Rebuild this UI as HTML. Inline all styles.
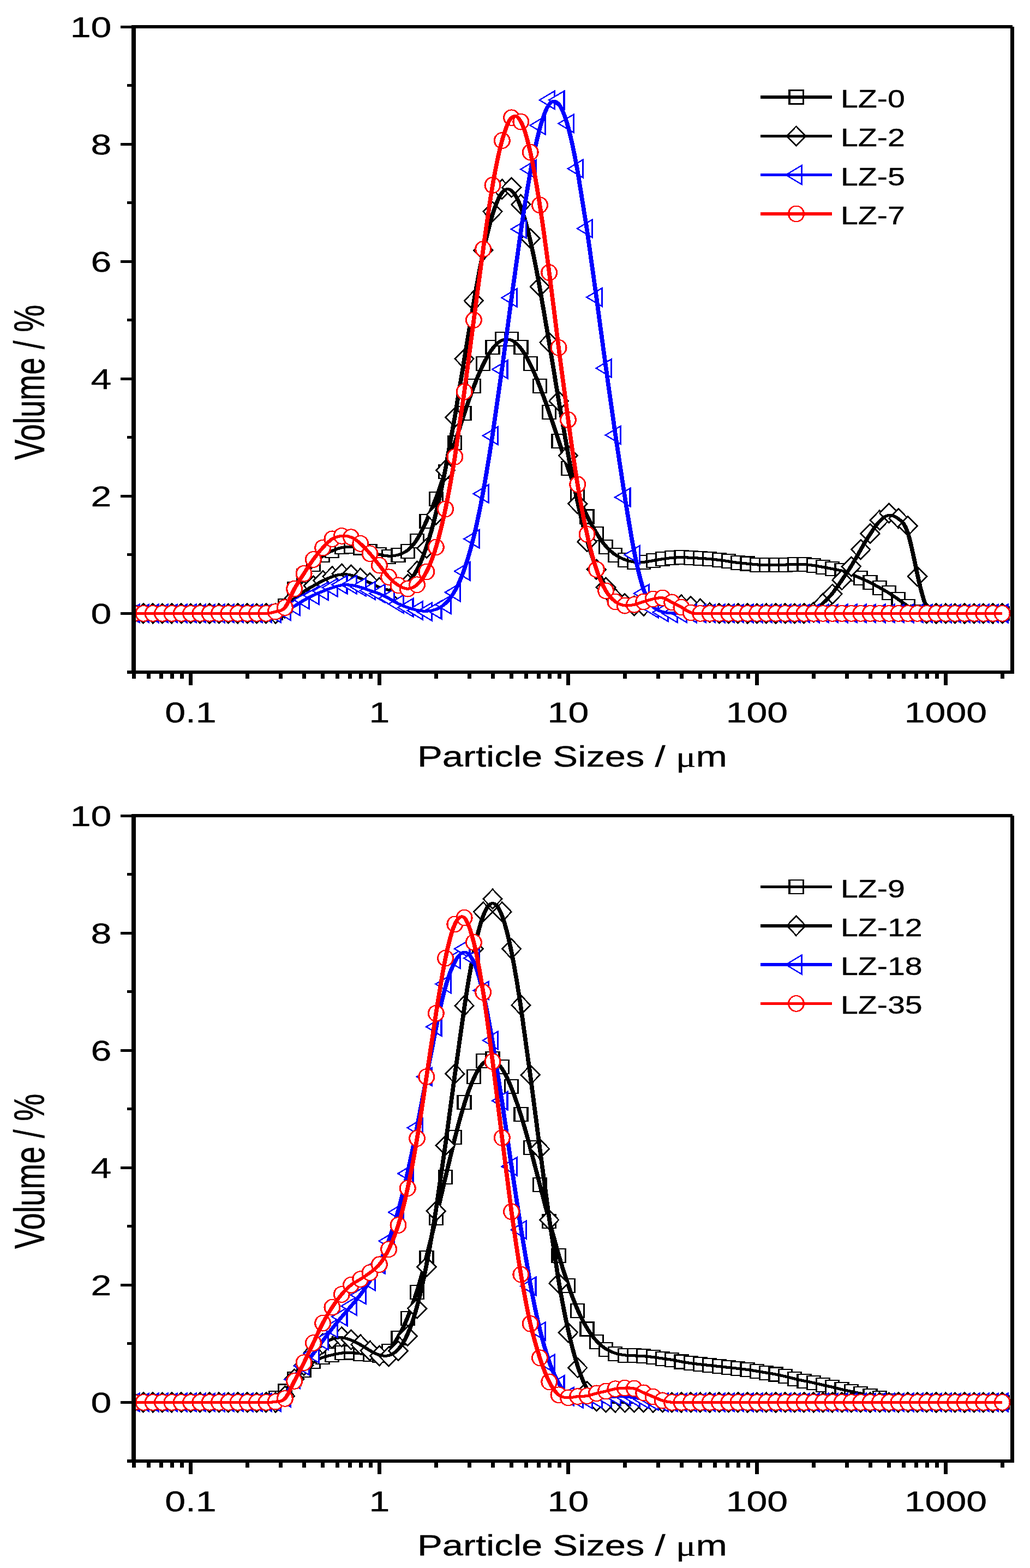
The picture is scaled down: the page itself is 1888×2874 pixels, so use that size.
<!DOCTYPE html>
<html><head><meta charset="utf-8"><title>Particle size distribution</title>
<style>html,body{margin:0;padding:0;background:#fff;}svg{display:block;}</style>
</head><body>
<svg shape-rendering="crispEdges" width="1888" height="2874" viewBox="0 0 1888 2874">
<rect width="1888" height="2874" fill="#fff"/>
<clipPath id="c1"><rect x="245" y="19" width="1610.5" height="1213"/></clipPath>
<g clip-path="url(#c1)"><g transform="scale(1.53,1)">
<g fill="#fff" stroke="#000" stroke-width="2.1">
<path d="M152.7,1111.9H168.4V1136.9H152.7Z"/>
<path d="M164,1111.9H179.7V1136.9H164Z"/>
<path d="M175.3,1111.9H191V1136.9H175.3Z"/>
<path d="M186.6,1111.9H202.3V1136.9H186.6Z"/>
<path d="M197.9,1111.9H213.6V1136.9H197.9Z"/>
<path d="M209.2,1111.9H224.9V1136.9H209.2Z"/>
<path d="M220.5,1111.9H236.2V1136.9H220.5Z"/>
<path d="M231.8,1111.9H247.5V1136.9H231.8Z"/>
<path d="M243.1,1111.9H258.8V1136.9H243.1Z"/>
<path d="M254.4,1111.9H270.1V1136.9H254.4Z"/>
<path d="M265.8,1111.9H281.4V1136.9H265.8Z"/>
<path d="M277.1,1111.9H292.7V1136.9H277.1Z"/>
<path d="M288.4,1111.9H304.1V1136.9H288.4Z"/>
<path d="M299.7,1111.9H315.4V1136.9H299.7Z"/>
<path d="M311,1111.9H326.7V1136.9H311Z"/>
<path d="M322.3,1110.8H338V1135.8H322.3Z"/>
<path d="M333.6,1097.9H349.3V1122.9H333.6Z"/>
<path d="M344.9,1066.7H360.6V1091.7H344.9Z"/>
<path d="M356.2,1043.1H371.9V1068.1H356.2Z"/>
<path d="M367.5,1021.6H383.2V1046.6H367.5Z"/>
<path d="M378.8,1005.4H394.5V1030.4H378.8Z"/>
<path d="M390.1,996.8H405.8V1021.8H390.1Z"/>
<path d="M401.4,990.4H417.1V1015.4H401.4Z"/>
<path d="M412.7,989.3H428.4V1014.3H412.7Z"/>
<path d="M424.1,991.5H439.7V1016.5H424.1Z"/>
<path d="M435.4,997.9H451V1022.9H435.4Z"/>
<path d="M446.7,1004.4H462.4V1029.4H446.7Z"/>
<path d="M458,1007.6H473.7V1032.6H458Z"/>
<path d="M469.3,1005.4H485V1030.4H469.3Z"/>
<path d="M480.6,997.9H496.3V1022.9H480.6Z"/>
<path d="M491.9,978.6H507.6V1003.6H491.9Z"/>
<path d="M503.2,943.1H518.9V968.1H503.2Z"/>
<path d="M514.5,902.2H530.2V927.2H514.5Z"/>
<path d="M525.8,851.7H541.5V876.7H525.8Z"/>
<path d="M537.1,799H552.8V824H537.1Z"/>
<path d="M548.4,745.2H564.1V770.2H548.4Z"/>
<path d="M559.7,694.6H575.4V719.6H559.7Z"/>
<path d="M571,653.8H586.7V678.8H571Z"/>
<path d="M582.4,623.7H598V648.7H582.4Z"/>
<path d="M593.7,608.6H609.3V633.6H593.7Z"/>
<path d="M605,608.6H620.7V633.6H605Z"/>
<path d="M616.3,623.7H632V648.7H616.3Z"/>
<path d="M627.6,653.8H643.3V678.8H627.6Z"/>
<path d="M638.9,694.6H654.6V719.6H638.9Z"/>
<path d="M650.2,743H665.9V768H650.2Z"/>
<path d="M661.5,795.7H677.2V820.7H661.5Z"/>
<path d="M672.8,846.3H688.5V871.3H672.8Z"/>
<path d="M684.1,895.7H699.8V920.7H684.1Z"/>
<path d="M695.4,934.5H711.1V959.5H695.4Z"/>
<path d="M706.7,965.6H722.4V990.6H706.7Z"/>
<path d="M718,990.4H733.7V1015.4H718Z"/>
<path d="M729.3,1005.4H745V1030.4H729.3Z"/>
<path d="M740.7,1014H756.3V1039H740.7Z"/>
<path d="M752,1018.3H767.6V1043.3H752Z"/>
<path d="M763.3,1018.3H779V1043.3H763.3Z"/>
<path d="M774.6,1015.1H790.3V1040.1H774.6Z"/>
<path d="M785.9,1011.9H801.6V1036.9H785.9Z"/>
<path d="M797.2,1009.7H812.9V1034.7H797.2Z"/>
<path d="M808.5,1008.9H824.2V1033.9H808.5Z"/>
<path d="M819.8,1009.7H835.5V1034.7H819.8Z"/>
<path d="M831.1,1010.8H846.8V1035.8H831.1Z"/>
<path d="M842.4,1011.9H858.1V1036.9H842.4Z"/>
<path d="M853.7,1014H869.4V1039H853.7Z"/>
<path d="M865,1016.2H880.7V1041.2H865Z"/>
<path d="M876.3,1019.4H892V1044.4H876.3Z"/>
<path d="M887.6,1020.5H903.3V1045.5H887.6Z"/>
<path d="M899,1022.6H914.6V1047.6H899Z"/>
<path d="M910.3,1023.2H925.9V1048.2H910.3Z"/>
<path d="M921.6,1023.2H937.3V1048.2H921.6Z"/>
<path d="M932.9,1022.6H948.6V1047.6H932.9Z"/>
<path d="M944.2,1021.6H959.9V1046.6H944.2Z"/>
<path d="M955.5,1021.6H971.2V1046.6H955.5Z"/>
<path d="M966.8,1023.7H982.5V1048.7H966.8Z"/>
<path d="M978.1,1026.9H993.8V1051.9H978.1Z"/>
<path d="M989.4,1030.2H1005.1V1055.2H989.4Z"/>
<path d="M1000.7,1033.4H1016.4V1058.4H1000.7Z"/>
<path d="M1012,1039.8H1027.7V1064.8H1012Z"/>
<path d="M1023.3,1047.4H1039V1072.4H1023.3Z"/>
<path d="M1034.6,1054.9H1050.3V1079.9H1034.6Z"/>
<path d="M1045.9,1064.6H1061.6V1089.6H1045.9Z"/>
<path d="M1057.3,1074.3H1072.9V1099.3H1057.3Z"/>
<path d="M1068.6,1086.1H1084.2V1111.1H1068.6Z"/>
<path d="M1079.9,1099H1095.6V1124H1079.9Z"/>
<path d="M1091.2,1108.7H1106.9V1133.7H1091.2Z"/>
<path d="M1102.5,1111.9H1118.2V1136.9H1102.5Z"/>
<path d="M1113.8,1111.9H1129.5V1136.9H1113.8Z"/>
<path d="M1125.1,1111.9H1140.8V1136.9H1125.1Z"/>
<path d="M1136.4,1111.9H1152.1V1136.9H1136.4Z"/>
<path d="M1147.7,1111.9H1163.4V1136.9H1147.7Z"/>
<path d="M1159,1111.9H1174.7V1136.9H1159Z"/>
<path d="M1170.3,1111.9H1186V1136.9H1170.3Z"/>
<path d="M1181.6,1111.9H1197.3V1136.9H1181.6Z"/>
<path d="M1192.9,1111.9H1208.6V1136.9H1192.9Z"/>
</g>
<path d="M160.5,1124.4L162.4,1124.4L171.8,1124.4L183.1,1124.4L194.4,1124.4L205.8,1124.4L217.1,1124.4L228.4,1124.4L239.7,1124.4L251,1124.4L262.3,1124.4L273.6,1124.4L284.9,1124.4L296.2,1124.4L307.5,1124.4C311.3,1124.4 315.1,1124.4 318.8,1124.2C322.6,1124 326.4,1123.7 330.1,1121.4C333.9,1119 337.7,1114.7 341.4,1107.4C345.2,1100 349,1089.6 352.7,1080.5C356.5,1071.3 360.3,1063.5 364.1,1055.9C367.8,1048.4 371.6,1041.2 375.4,1035C379.1,1028.7 382.9,1023.3 386.7,1019.2C390.4,1015.1 394.2,1012.2 398,1009.7C401.7,1007.2 405.5,1005 409.3,1003.8C413.1,1002.5 416.8,1002.2 420.6,1002.3C424.4,1002.5 428.1,1003.2 431.9,1004.7C435.7,1006.1 439.4,1008.3 443.2,1010.4C447,1012.6 450.7,1014.7 454.5,1016.3C458.3,1017.9 462,1019 465.8,1019.2C469.6,1019.4 473.4,1018.7 477.1,1017C480.9,1015.4 484.7,1012.9 488.4,1008.4C492.2,1004 496,997.5 499.7,988.4C503.5,979.2 507.3,967.4 511,954.7C514.8,941.9 518.6,928.3 522.4,913.1C526.1,897.8 529.9,881 533.7,863.8C537.4,846.6 541.2,829 545,811.3C548.7,793.5 552.5,775.6 556.3,758.2C560,740.8 563.8,724 567.6,708.8C571.4,693.5 575.1,679.9 578.9,668.1C582.7,656.2 586.4,646.2 590.2,638.7C594,631.1 597.7,626.1 601.5,623.6C605.3,621.1 609,621.1 612.8,623.6C616.6,626.1 620.3,631.1 624.1,638.7C627.9,646.2 631.7,656.2 635.4,668.1C639.2,679.9 643,693.5 646.7,708.4C650.5,723.3 654.3,739.4 658,756.3C661.8,773.1 665.6,790.7 669.3,807.9C673.1,825.1 676.9,841.9 680.7,858.6C684.4,875.3 688.2,891.8 692,906.5C695.7,921.1 699.5,934.1 703.3,945.7C707,957.4 710.8,967.8 714.6,977.1C718.3,986.4 722.1,994.6 725.9,1001.3C729.7,1007.9 733.4,1012.9 737.2,1016.9C741,1020.8 744.7,1023.7 748.5,1025.8C752.3,1028 756,1029.4 759.8,1030.1C763.6,1030.8 767.3,1030.8 771.1,1030.3C774.9,1029.8 778.6,1028.7 782.4,1027.6C786.2,1026.5 790,1025.5 793.7,1024.6C797.5,1023.7 801.3,1023 805,1022.5C808.8,1022 812.6,1021.7 816.3,1021.7C820.1,1021.7 823.9,1022 827.6,1022.3C831.4,1022.6 835.2,1023 839,1023.3C842.7,1023.7 846.5,1024 850.3,1024.6C854,1025.1 857.8,1025.8 861.6,1026.5C865.3,1027.3 869.1,1028 872.9,1028.9C876.6,1029.8 880.4,1030.8 884.2,1031.6C888,1032.3 891.7,1032.6 895.5,1033.2C899.3,1033.7 903,1034.4 906.8,1034.9C910.6,1035.3 914.3,1035.5 918.1,1035.6C921.9,1035.7 925.6,1035.7 929.4,1035.6C933.2,1035.5 936.9,1035.3 940.7,1035.1C944.5,1034.8 948.3,1034.4 952,1034.2C955.8,1034.1 959.6,1034.1 963.3,1034.4C967.1,1034.8 970.9,1035.5 974.6,1036.4C978.4,1037.3 982.2,1038.4 985.9,1039.4C989.7,1040.5 993.5,1041.6 997.3,1042.7C1001,1043.7 1004.8,1044.8 1008.6,1046.4C1012.3,1048 1016.1,1050.2 1019.9,1052.5C1023.6,1054.9 1027.4,1057.4 1031.2,1059.9C1034.9,1062.4 1038.7,1064.9 1042.5,1067.8C1046.3,1070.6 1050,1073.9 1053.8,1077.1C1057.6,1080.3 1061.3,1083.5 1065.1,1087.1C1068.9,1090.7 1072.6,1094.6 1076.4,1098.8C1080.2,1102.9 1083.9,1107.2 1087.7,1111C1091.5,1114.7 1095.3,1117.9 1099,1120.1C1102.8,1122.2 1106.6,1123.3 1110.3,1123.9C1114.1,1124.4 1117.9,1124.4 1121.6,1124.4L1132.9,1124.4L1144.2,1124.4L1155.6,1124.4L1166.9,1124.4L1178.2,1124.4L1189.5,1124.4L1198.9,1124.4L1200.8,1124.4" fill="none" stroke="#000" stroke-width="5.1" stroke-linejoin="round"/>
<g fill="#fff" stroke="#000" stroke-width="2.1">
<path d="M160.5,1106.6L171.8,1124.4L160.5,1142.2L149.3,1124.4Z"/>
<path d="M171.8,1106.6L183.1,1124.4L171.8,1142.2L160.6,1124.4Z"/>
<path d="M183.1,1106.6L194.4,1124.4L183.1,1142.2L171.9,1124.4Z"/>
<path d="M194.4,1106.6L205.7,1124.4L194.4,1142.2L183.2,1124.4Z"/>
<path d="M205.8,1106.6L217,1124.4L205.8,1142.2L194.5,1124.4Z"/>
<path d="M217.1,1106.6L228.3,1124.4L217.1,1142.2L205.8,1124.4Z"/>
<path d="M228.4,1106.6L239.6,1124.4L228.4,1142.2L217.1,1124.4Z"/>
<path d="M239.7,1106.6L250.9,1124.4L239.7,1142.2L228.4,1124.4Z"/>
<path d="M251,1106.6L262.2,1124.4L251,1142.2L239.7,1124.4Z"/>
<path d="M262.3,1106.6L273.5,1124.4L262.3,1142.2L251,1124.4Z"/>
<path d="M273.6,1106.6L284.8,1124.4L273.6,1142.2L262.4,1124.4Z"/>
<path d="M284.9,1106.6L296.1,1124.4L284.9,1142.2L273.7,1124.4Z"/>
<path d="M296.2,1106.6L307.5,1124.4L296.2,1142.2L285,1124.4Z"/>
<path d="M307.5,1106.6L318.8,1124.4L307.5,1142.2L296.3,1124.4Z"/>
<path d="M318.8,1106.6L330.1,1124.4L318.8,1142.2L307.6,1124.4Z"/>
<path d="M330.1,1106.6L341.4,1124.4L330.1,1142.2L318.9,1124.4Z"/>
<path d="M341.4,1096.9L352.7,1114.7L341.4,1132.5L330.2,1114.7Z"/>
<path d="M352.7,1078.6L364,1096.4L352.7,1114.2L341.5,1096.4Z"/>
<path d="M364.1,1065.7L375.3,1083.5L364.1,1101.3L352.8,1083.5Z"/>
<path d="M375.4,1056.1L386.6,1073.9L375.4,1091.7L364.1,1073.9Z"/>
<path d="M386.7,1046.4L397.9,1064.2L386.7,1082L375.4,1064.2Z"/>
<path d="M398,1038.8L409.2,1056.6L398,1074.4L386.7,1056.6Z"/>
<path d="M409.3,1034L420.5,1051.8L409.3,1069.6L398,1051.8Z"/>
<path d="M420.6,1035.6L431.8,1053.4L420.6,1071.2L409.3,1053.4Z"/>
<path d="M431.9,1042.1L443.1,1059.9L431.9,1077.7L420.7,1059.9Z"/>
<path d="M443.2,1050.7L454.4,1068.5L443.2,1086.3L432,1068.5Z"/>
<path d="M454.5,1059.3L465.8,1077.1L454.5,1094.9L443.3,1077.1Z"/>
<path d="M465.8,1064.7L477.1,1082.5L465.8,1100.3L454.6,1082.5Z"/>
<path d="M477.1,1063.6L488.4,1081.4L477.1,1099.2L465.9,1081.4Z"/>
<path d="M488.4,1052.8L499.7,1070.6L488.4,1088.4L477.2,1070.6Z"/>
<path d="M499.7,1029.2L511,1047L499.7,1064.8L488.5,1047Z"/>
<path d="M511,987.2L522.3,1005L511,1022.8L499.8,1005Z"/>
<path d="M522.4,925.9L533.6,943.7L522.4,961.5L511.1,943.7Z"/>
<path d="M533.7,844.2L544.9,862L533.7,879.8L522.4,862Z"/>
<path d="M545,747.4L556.2,765.2L545,783L533.7,765.2Z"/>
<path d="M556.3,639.9L567.5,657.7L556.3,675.5L545,657.7Z"/>
<path d="M567.6,533.4L578.8,551.2L567.6,569L556.3,551.2Z"/>
<path d="M578.9,440.9L590.1,458.7L578.9,476.5L567.6,458.7Z"/>
<path d="M590.2,370L601.4,387.8L590.2,405.6L579,387.8Z"/>
<path d="M601.5,329.1L612.7,346.9L601.5,364.7L590.3,346.9Z"/>
<path d="M612.8,325.9L624.1,343.7L612.8,361.5L601.6,343.7Z"/>
<path d="M624.1,357L635.4,374.8L624.1,392.6L612.9,374.8Z"/>
<path d="M635.4,419.4L646.7,437.2L635.4,455L624.2,437.2Z"/>
<path d="M646.7,507.6L658,525.4L646.7,543.2L635.5,525.4Z"/>
<path d="M658,609.8L669.3,627.6L658,645.4L646.8,627.6Z"/>
<path d="M669.3,717.3L680.6,735.1L669.3,752.9L658.1,735.1Z"/>
<path d="M680.7,817.3L691.9,835.1L680.7,852.9L669.4,835.1Z"/>
<path d="M692,905.5L703.2,923.3L692,941.1L680.7,923.3Z"/>
<path d="M703.3,975.4L714.5,993.2L703.3,1011L692,993.2Z"/>
<path d="M714.6,1025.9L725.8,1043.7L714.6,1061.5L703.3,1043.7Z"/>
<path d="M725.9,1058.7L737.1,1076.5L725.9,1094.3L714.6,1076.5Z"/>
<path d="M737.2,1079.7L748.4,1097.5L737.2,1115.3L725.9,1097.5Z"/>
<path d="M748.5,1088.6L759.7,1106.4L748.5,1124.2L737.3,1106.4Z"/>
<path d="M759.8,1092.8L771,1110.6L759.8,1128.4L748.6,1110.6Z"/>
<path d="M771.1,1092.8L782.4,1110.6L771.1,1128.4L759.9,1110.6Z"/>
<path d="M782.4,1091.1L793.7,1108.9L782.4,1126.7L771.2,1108.9Z"/>
<path d="M793.7,1090.5L805,1108.3L793.7,1126.1L782.5,1108.3Z"/>
<path d="M805,1090L816.3,1107.8L805,1125.6L793.8,1107.8Z"/>
<path d="M816.3,1090.8L827.6,1108.6L816.3,1126.4L805.1,1108.6Z"/>
<path d="M827.6,1093.3L838.9,1111.1L827.6,1128.9L816.4,1111.1Z"/>
<path d="M839,1098.2L850.2,1116L839,1133.8L827.7,1116Z"/>
<path d="M850.3,1105L861.5,1122.8L850.3,1140.6L839,1122.8Z"/>
<path d="M861.6,1106.6L872.8,1124.4L861.6,1142.2L850.3,1124.4Z"/>
<path d="M872.9,1106.6L884.1,1124.4L872.9,1142.2L861.6,1124.4Z"/>
<path d="M884.2,1106.6L895.4,1124.4L884.2,1142.2L872.9,1124.4Z"/>
<path d="M895.5,1106.6L906.7,1124.4L895.5,1142.2L884.2,1124.4Z"/>
<path d="M906.8,1106.6L918,1124.4L906.8,1142.2L895.6,1124.4Z"/>
<path d="M918.1,1106.6L929.3,1124.4L918.1,1142.2L906.9,1124.4Z"/>
<path d="M929.4,1106.6L940.7,1124.4L929.4,1142.2L918.2,1124.4Z"/>
<path d="M940.7,1106.6L952,1124.4L940.7,1142.2L929.5,1124.4Z"/>
<path d="M952,1106.6L963.3,1124.4L952,1142.2L940.8,1124.4Z"/>
<path d="M963.3,1106.6L974.6,1124.4L963.3,1142.2L952.1,1124.4Z"/>
<path d="M974.6,1104.4L985.9,1122.2L974.6,1140L963.4,1122.2Z"/>
<path d="M985.9,1088.3L997.2,1106.1L985.9,1123.9L974.7,1106.1Z"/>
<path d="M997.3,1071.1L1008.5,1088.9L997.3,1106.7L986,1088.9Z"/>
<path d="M1008.6,1045.3L1019.8,1063.1L1008.6,1080.9L997.3,1063.1Z"/>
<path d="M1019.9,1020.6L1031.1,1038.4L1019.9,1056.2L1008.6,1038.4Z"/>
<path d="M1031.2,989.4L1042.4,1007.2L1031.2,1025L1019.9,1007.2Z"/>
<path d="M1042.5,960.3L1053.7,978.1L1042.5,995.9L1031.2,978.1Z"/>
<path d="M1053.8,935.6L1065,953.4L1053.8,971.2L1042.5,953.4Z"/>
<path d="M1065.1,922.7L1076.3,940.5L1065.1,958.3L1053.9,940.5Z"/>
<path d="M1076.4,932.4L1087.6,950.2L1076.4,968L1065.2,950.2Z"/>
<path d="M1087.7,946.4L1099,964.2L1087.7,982L1076.5,964.2Z"/>
<path d="M1099,1038.8L1110.3,1056.6L1099,1074.4L1087.8,1056.6Z"/>
<path d="M1110.3,1106.6L1121.6,1124.4L1110.3,1142.2L1099.1,1124.4Z"/>
<path d="M1121.6,1106.6L1132.9,1124.4L1121.6,1142.2L1110.4,1124.4Z"/>
<path d="M1132.9,1106.6L1144.2,1124.4L1132.9,1142.2L1121.7,1124.4Z"/>
<path d="M1144.2,1106.6L1155.5,1124.4L1144.2,1142.2L1133,1124.4Z"/>
<path d="M1155.6,1106.6L1166.8,1124.4L1155.6,1142.2L1144.3,1124.4Z"/>
<path d="M1166.9,1106.6L1178.1,1124.4L1166.9,1142.2L1155.6,1124.4Z"/>
<path d="M1178.2,1106.6L1189.4,1124.4L1178.2,1142.2L1166.9,1124.4Z"/>
<path d="M1189.5,1106.6L1200.7,1124.4L1189.5,1142.2L1178.2,1124.4Z"/>
<path d="M1200.8,1106.6L1212,1124.4L1200.8,1142.2L1189.5,1124.4Z"/>
</g>
<path d="M160.5,1124.4L162.4,1124.4L171.8,1124.4L183.1,1124.4L194.4,1124.4L205.8,1124.4L217.1,1124.4L228.4,1124.4L239.7,1124.4L251,1124.4L262.3,1124.4L273.6,1124.4L284.9,1124.4L296.2,1124.4L307.5,1124.4L318.8,1124.4C322.6,1124.4 326.4,1124.4 330.1,1122.8C333.9,1121.2 337.7,1117.9 341.4,1113.3C345.2,1108.6 349,1102.5 352.7,1097.3C356.5,1092.1 360.3,1087.8 364.1,1084.1C367.8,1080.3 371.6,1077.1 375.4,1073.9C379.1,1070.6 382.9,1067.4 386.7,1064.5C390.4,1061.7 394.2,1059.2 398,1057.1C401.7,1055 405.5,1053.4 409.3,1052.9C413.1,1052.3 416.8,1052.9 420.6,1054.2C424.4,1055.6 428.1,1057.7 431.9,1060.2C435.7,1062.7 439.4,1065.6 443.2,1068.5C447,1071.3 450.7,1074.2 454.5,1076.5C458.3,1078.9 462,1080.7 465.8,1081.4C469.6,1082.1 473.4,1081.7 477.1,1079.8C480.9,1077.8 484.7,1074.2 488.4,1068.5C492.2,1062.7 496,1054.9 499.7,1043.9C503.5,1033 507.3,1019 511,1001.8C514.8,984.6 518.6,964.2 522.4,940.3C526.1,916.5 529.9,889.2 533.7,859.5C537.4,829.7 541.2,797.5 545,763.4C548.7,729.4 552.5,693.5 556.3,657.9C560,622.2 563.8,586.7 567.6,553.5C571.4,520.4 575.1,489.6 578.9,462.3C582.7,435.1 586.4,411.4 590.2,392.8C594,374.1 597.7,360.5 601.5,353.2C605.3,345.8 609,344.7 612.8,349.4C616.6,354.1 620.3,364.5 624.1,380C627.9,395.6 631.7,416.4 635.4,441.5C639.2,466.6 643,496 646.7,527.7C650.5,559.5 654.3,593.5 658,628.5C661.8,663.4 665.6,699.3 669.3,733.9C673.1,768.4 676.9,801.8 680.7,833.1C684.4,864.5 688.2,893.9 692,920.3C695.7,946.6 699.5,969.9 703.3,990C707,1010 710.8,1026.9 714.6,1040.8C718.3,1054.7 722.1,1065.6 725.9,1074.6C729.7,1083.5 733.4,1090.5 737.2,1095.5C741,1100.5 744.7,1103.5 748.5,1105.7C752.3,1107.8 756,1109.2 759.8,1109.9C763.6,1110.6 767.3,1110.6 771.1,1110.3C774.9,1110.1 778.6,1109.5 782.4,1109.1C786.2,1108.7 790,1108.5 793.7,1108.3C797.5,1108.1 801.3,1108 805,1108C808.8,1108.1 812.6,1108.3 816.3,1108.9C820.1,1109.4 823.9,1110.2 827.6,1111.5C831.4,1112.7 835.2,1114.4 839,1116.3C842.7,1118.3 846.5,1120.5 850.3,1121.9C854,1123.3 857.8,1123.9 861.6,1124.1C865.3,1124.4 869.1,1124.4 872.9,1124.4L884.2,1124.4L895.5,1124.4L906.8,1124.4L918.1,1124.4L929.4,1124.4L940.7,1124.4L952,1124.4C955.8,1124.4 959.6,1124.4 963.3,1124C967.1,1123.7 970.9,1123 974.6,1119.9C978.4,1116.9 982.2,1111.5 985.9,1105.9C989.7,1100.4 993.5,1094.6 997.3,1087.5C1001,1080.3 1004.8,1071.7 1008.6,1063.3C1012.3,1054.9 1016.1,1046.6 1019.9,1037.3C1023.6,1028 1027.4,1017.6 1031.2,1007.5C1034.9,997.5 1038.7,987.8 1042.5,978.9C1046.3,969.9 1050,961.7 1053.8,955.4C1057.6,949.1 1061.3,944.8 1065.1,944.3C1068.9,943.7 1072.6,947 1076.4,950.9C1080.2,954.8 1083.9,959.5 1087.7,977.2C1091.5,995 1095.3,1025.8 1099,1052.5C1102.8,1079.2 1106.6,1101.8 1110.3,1113.1C1114.1,1124.4 1117.9,1124.4 1121.6,1124.4L1132.9,1124.4L1144.2,1124.4L1155.6,1124.4L1166.9,1124.4L1178.2,1124.4L1189.5,1124.4L1198.9,1124.4L1200.8,1124.4" fill="none" stroke="#000" stroke-width="5.1" stroke-linejoin="round"/>
<g fill="#fff" stroke="#00f" stroke-width="2.1">
<path d="M148.8,1124.4L166.9,1107.9L166.9,1140.9Z"/>
<path d="M160.1,1124.4L178.2,1107.9L178.2,1140.9Z"/>
<path d="M171.4,1124.4L189.5,1107.9L189.5,1140.9Z"/>
<path d="M182.7,1124.4L200.8,1107.9L200.8,1140.9Z"/>
<path d="M194,1124.4L212.2,1107.9L212.2,1140.9Z"/>
<path d="M205.3,1124.4L223.5,1107.9L223.5,1140.9Z"/>
<path d="M216.6,1124.4L234.8,1107.9L234.8,1140.9Z"/>
<path d="M227.9,1124.4L246.1,1107.9L246.1,1140.9Z"/>
<path d="M239.2,1124.4L257.4,1107.9L257.4,1140.9Z"/>
<path d="M250.5,1124.4L268.7,1107.9L268.7,1140.9Z"/>
<path d="M261.8,1124.4L280,1107.9L280,1140.9Z"/>
<path d="M273.1,1124.4L291.3,1107.9L291.3,1140.9Z"/>
<path d="M284.4,1124.4L302.6,1107.9L302.6,1140.9Z"/>
<path d="M295.8,1124.4L313.9,1107.9L313.9,1140.9Z"/>
<path d="M307.1,1124.4L325.2,1107.9L325.2,1140.9Z"/>
<path d="M318.4,1124.4L336.5,1107.9L336.5,1140.9Z"/>
<path d="M329.7,1120.1L347.8,1103.6L347.8,1136.6Z"/>
<path d="M341,1111.5L359.2,1095L359.2,1128Z"/>
<path d="M352.3,1099.7L370.5,1083.2L370.5,1116.2Z"/>
<path d="M363.6,1091.1L381.8,1074.6L381.8,1107.6Z"/>
<path d="M374.9,1083.5L393.1,1067L393.1,1100Z"/>
<path d="M386.2,1077.1L404.4,1060.6L404.4,1093.6Z"/>
<path d="M397.5,1071.7L415.7,1055.2L415.7,1088.2Z"/>
<path d="M408.8,1071.7L427,1055.2L427,1088.2Z"/>
<path d="M420.1,1076L438.3,1059.5L438.3,1092.5Z"/>
<path d="M431.4,1082.5L449.6,1066L449.6,1099Z"/>
<path d="M442.7,1087.8L460.9,1071.3L460.9,1104.3Z"/>
<path d="M454.1,1096.4L472.2,1079.9L472.2,1112.9Z"/>
<path d="M465.4,1107.2L483.5,1090.7L483.5,1123.7Z"/>
<path d="M476.7,1113.6L494.8,1097.1L494.8,1130.1Z"/>
<path d="M488,1119L506.1,1102.5L506.1,1135.5Z"/>
<path d="M499.3,1121.2L517.5,1104.7L517.5,1137.7Z"/>
<path d="M510.6,1117.9L528.8,1101.4L528.8,1134.4Z"/>
<path d="M521.9,1108.3L540.1,1091.8L540.1,1124.8Z"/>
<path d="M533.2,1085.7L551.4,1069.2L551.4,1102.2Z"/>
<path d="M544.5,1047L562.7,1030.5L562.7,1063.5Z"/>
<path d="M555.8,987.8L574,971.3L574,1004.3Z"/>
<path d="M567.1,905L585.3,888.5L585.3,921.5Z"/>
<path d="M578.4,798.6L596.6,782.1L596.6,815.1Z"/>
<path d="M589.7,677L607.9,660.5L607.9,693.5Z"/>
<path d="M601,545.8L619.2,529.3L619.2,562.3Z"/>
<path d="M612.4,420L630.5,403.5L630.5,436.5Z"/>
<path d="M623.7,310.3L641.8,293.8L641.8,326.8Z"/>
<path d="M635,229.7L653.1,213.2L653.1,246.2Z"/>
<path d="M646.3,183.4L664.4,166.9L664.4,199.9Z"/>
<path d="M657.6,183.4L675.8,166.9L675.8,199.9Z"/>
<path d="M668.9,226.4L687.1,209.9L687.1,242.9Z"/>
<path d="M680.2,309.2L698.4,292.7L698.4,325.7Z"/>
<path d="M691.5,418.9L709.7,402.4L709.7,435.4Z"/>
<path d="M702.8,544.8L721,528.3L721,561.3Z"/>
<path d="M714.1,674.9L732.3,658.4L732.3,691.4Z"/>
<path d="M725.4,797.5L743.6,781L743.6,814Z"/>
<path d="M736.7,911.5L754.9,895L754.9,928Z"/>
<path d="M748,1016.9L766.2,1000.4L766.2,1033.4Z"/>
<path d="M759.3,1087.8L777.5,1071.3L777.5,1104.3Z"/>
<path d="M770.7,1115.8L788.8,1099.3L788.8,1132.3Z"/>
<path d="M782,1122.2L800.1,1105.7L800.1,1138.7Z"/>
<path d="M793.3,1124.4L811.4,1107.9L811.4,1140.9Z"/>
<path d="M804.6,1124.4L822.7,1107.9L822.7,1140.9Z"/>
<path d="M815.9,1124.4L834.1,1107.9L834.1,1140.9Z"/>
<path d="M827.2,1124.4L845.4,1107.9L845.4,1140.9Z"/>
<path d="M838.5,1124.4L856.7,1107.9L856.7,1140.9Z"/>
<path d="M849.8,1124.4L868,1107.9L868,1140.9Z"/>
<path d="M861.1,1124.4L879.3,1107.9L879.3,1140.9Z"/>
<path d="M872.4,1124.4L890.6,1107.9L890.6,1140.9Z"/>
<path d="M883.7,1124.4L901.9,1107.9L901.9,1140.9Z"/>
<path d="M895,1124.4L913.2,1107.9L913.2,1140.9Z"/>
<path d="M906.3,1124.4L924.5,1107.9L924.5,1140.9Z"/>
<path d="M917.6,1124.4L935.8,1107.9L935.8,1140.9Z"/>
<path d="M929,1124.4L947.1,1107.9L947.1,1140.9Z"/>
<path d="M940.3,1124.4L958.4,1107.9L958.4,1140.9Z"/>
<path d="M951.6,1124.4L969.7,1107.9L969.7,1140.9Z"/>
<path d="M962.9,1124.4L981,1107.9L981,1140.9Z"/>
<path d="M974.2,1124.4L992.4,1107.9L992.4,1140.9Z"/>
<path d="M985.5,1124.4L1003.7,1107.9L1003.7,1140.9Z"/>
<path d="M996.8,1124.4L1015,1107.9L1015,1140.9Z"/>
<path d="M1008.1,1124.4L1026.3,1107.9L1026.3,1140.9Z"/>
<path d="M1019.4,1124.4L1037.6,1107.9L1037.6,1140.9Z"/>
<path d="M1030.7,1124.4L1048.9,1107.9L1048.9,1140.9Z"/>
<path d="M1042,1124.4L1060.2,1107.9L1060.2,1140.9Z"/>
<path d="M1053.3,1124.4L1071.5,1107.9L1071.5,1140.9Z"/>
<path d="M1064.6,1124.4L1082.8,1107.9L1082.8,1140.9Z"/>
<path d="M1075.9,1124.4L1094.1,1107.9L1094.1,1140.9Z"/>
<path d="M1087.3,1124.4L1105.4,1107.9L1105.4,1140.9Z"/>
<path d="M1098.6,1124.4L1116.7,1107.9L1116.7,1140.9Z"/>
<path d="M1109.9,1124.4L1128,1107.9L1128,1140.9Z"/>
<path d="M1121.2,1124.4L1139.3,1107.9L1139.3,1140.9Z"/>
<path d="M1132.5,1124.4L1150.7,1107.9L1150.7,1140.9Z"/>
<path d="M1143.8,1124.4L1162,1107.9L1162,1140.9Z"/>
<path d="M1155.1,1124.4L1173.3,1107.9L1173.3,1140.9Z"/>
<path d="M1166.4,1124.4L1184.6,1107.9L1184.6,1140.9Z"/>
<path d="M1177.7,1124.4L1195.9,1107.9L1195.9,1140.9Z"/>
<path d="M1189,1124.4L1207.2,1107.9L1207.2,1140.9Z"/>
</g>
<path d="M160.5,1124.4L162.4,1124.4L171.8,1124.4L183.1,1124.4L194.4,1124.4L205.8,1124.4L217.1,1124.4L228.4,1124.4L239.7,1124.4L251,1124.4L262.3,1124.4L273.6,1124.4L284.9,1124.4L296.2,1124.4L307.5,1124.4L318.8,1124.4C322.6,1124.4 326.4,1124.4 330.1,1123.7C333.9,1123 337.7,1121.5 341.4,1119.4C345.2,1117.2 349,1114.4 352.7,1111C356.5,1107.6 360.3,1103.6 364.1,1100.2C367.8,1096.8 371.6,1093.9 375.4,1091.2C379.1,1088.6 382.9,1086 386.7,1083.7C390.4,1081.4 394.2,1079.2 398,1077.3C401.7,1075.3 405.5,1073.5 409.3,1072.6C413.1,1071.7 416.8,1071.7 420.6,1072.4C424.4,1073.1 428.1,1074.6 431.9,1076.4C435.7,1078.2 439.4,1080.3 443.2,1082.3C447,1084.3 450.7,1086 454.5,1088.4C458.3,1090.7 462,1093.6 465.8,1096.8C469.6,1100 473.4,1103.6 477.1,1106.5C480.9,1109.3 484.7,1111.5 488.4,1113.5C492.2,1115.4 496,1117.2 499.7,1118.5C503.5,1119.7 507.3,1120.5 511,1120.3C514.8,1120.1 518.6,1119 522.4,1116.9C526.1,1114.7 529.9,1111.5 533.7,1106.1C537.4,1100.7 541.2,1093.2 545,1083C548.7,1072.8 552.5,1059.9 556.3,1043.6C560,1027.3 563.8,1007.5 567.6,983.9C571.4,960.2 575.1,932.6 578.9,901.1C582.7,869.5 586.4,834 590.2,796C594,758 597.7,717.5 601.5,675.4C605.3,633.3 609,589.6 612.8,546.7C616.6,503.9 620.3,462 624.1,422.7C627.9,383.4 631.7,346.9 635.4,315.2C639.2,283.4 643,256.6 646.7,235.4C650.5,214.3 654.3,198.8 658,191.1C661.8,183.4 665.6,183.4 669.3,190.6C673.1,197.8 676.9,212.1 680.7,233.1C684.4,254 688.2,281.6 692,313.7C695.7,345.8 699.5,382.4 703.3,421.6C707,460.9 710.8,502.8 714.6,545.5C718.3,588.1 722.1,631.5 725.9,673.6C729.7,715.7 733.4,756.6 737.2,796C741,835.5 744.7,873.5 748.5,910C752.3,946.6 756,981.7 759.8,1011.1C763.6,1040.5 767.3,1064.2 771.1,1080.7C774.9,1097.2 778.6,1106.5 782.4,1112.2C786.2,1117.9 790,1120.1 793.7,1121.5C797.5,1123 801.3,1123.7 805,1124C808.8,1124.4 812.6,1124.4 816.3,1124.4L827.6,1124.4L839,1124.4L850.3,1124.4L861.6,1124.4L872.9,1124.4L884.2,1124.4L895.5,1124.4L906.8,1124.4L918.1,1124.4L929.4,1124.4L940.7,1124.4L952,1124.4L963.3,1124.4L974.6,1124.4L985.9,1124.4L997.3,1124.4L1008.6,1124.4L1019.9,1124.4L1031.2,1124.4L1042.5,1124.4L1053.8,1124.4L1065.1,1124.4L1076.4,1124.4L1087.7,1124.4L1099,1124.4L1110.3,1124.4L1121.6,1124.4L1132.9,1124.4L1144.2,1124.4L1155.6,1124.4L1166.9,1124.4L1178.2,1124.4L1189.5,1124.4L1198.9,1124.4L1200.8,1124.4" fill="none" stroke="#00f" stroke-width="5.1" stroke-linejoin="round"/>
<g fill="#fff" stroke="#f00" stroke-width="2.1">
<ellipse cx="160.5" cy="1124.4" rx="9.1" ry="14.3"/>
<ellipse cx="171.8" cy="1124.4" rx="9.1" ry="14.3"/>
<ellipse cx="183.1" cy="1124.4" rx="9.1" ry="14.3"/>
<ellipse cx="194.4" cy="1124.4" rx="9.1" ry="14.3"/>
<ellipse cx="205.8" cy="1124.4" rx="9.1" ry="14.3"/>
<ellipse cx="217.1" cy="1124.4" rx="9.1" ry="14.3"/>
<ellipse cx="228.4" cy="1124.4" rx="9.1" ry="14.3"/>
<ellipse cx="239.7" cy="1124.4" rx="9.1" ry="14.3"/>
<ellipse cx="251" cy="1124.4" rx="9.1" ry="14.3"/>
<ellipse cx="262.3" cy="1124.4" rx="9.1" ry="14.3"/>
<ellipse cx="273.6" cy="1124.4" rx="9.1" ry="14.3"/>
<ellipse cx="284.9" cy="1124.4" rx="9.1" ry="14.3"/>
<ellipse cx="296.2" cy="1124.4" rx="9.1" ry="14.3"/>
<ellipse cx="307.5" cy="1124.4" rx="9.1" ry="14.3"/>
<ellipse cx="318.8" cy="1124.4" rx="9.1" ry="14.3"/>
<ellipse cx="330.1" cy="1121.2" rx="9.1" ry="14.3"/>
<ellipse cx="341.4" cy="1113.6" rx="9.1" ry="14.3"/>
<ellipse cx="352.7" cy="1079.2" rx="9.1" ry="14.3"/>
<ellipse cx="364.1" cy="1051.3" rx="9.1" ry="14.3"/>
<ellipse cx="375.4" cy="1025.5" rx="9.1" ry="14.3"/>
<ellipse cx="386.7" cy="1004" rx="9.1" ry="14.3"/>
<ellipse cx="398" cy="987.8" rx="9.1" ry="14.3"/>
<ellipse cx="409.3" cy="982.4" rx="9.1" ry="14.3"/>
<ellipse cx="420.6" cy="984.6" rx="9.1" ry="14.3"/>
<ellipse cx="431.9" cy="996.4" rx="9.1" ry="14.3"/>
<ellipse cx="443.2" cy="1014.7" rx="9.1" ry="14.3"/>
<ellipse cx="454.5" cy="1036.2" rx="9.1" ry="14.3"/>
<ellipse cx="465.8" cy="1057.7" rx="9.1" ry="14.3"/>
<ellipse cx="477.1" cy="1072.8" rx="9.1" ry="14.3"/>
<ellipse cx="488.4" cy="1079.2" rx="9.1" ry="14.3"/>
<ellipse cx="499.7" cy="1071.7" rx="9.1" ry="14.3"/>
<ellipse cx="511" cy="1048" rx="9.1" ry="14.3"/>
<ellipse cx="522.4" cy="1002.9" rx="9.1" ry="14.3"/>
<ellipse cx="533.7" cy="933" rx="9.1" ry="14.3"/>
<ellipse cx="545" cy="837.3" rx="9.1" ry="14.3"/>
<ellipse cx="556.3" cy="717.9" rx="9.1" ry="14.3"/>
<ellipse cx="567.6" cy="586.7" rx="9.1" ry="14.3"/>
<ellipse cx="578.9" cy="456.6" rx="9.1" ry="14.3"/>
<ellipse cx="590.2" cy="339.4" rx="9.1" ry="14.3"/>
<ellipse cx="601.5" cy="257.6" rx="9.1" ry="14.3"/>
<ellipse cx="612.8" cy="215.7" rx="9.1" ry="14.3"/>
<ellipse cx="624.1" cy="223.2" rx="9.1" ry="14.3"/>
<ellipse cx="635.4" cy="279.1" rx="9.1" ry="14.3"/>
<ellipse cx="646.7" cy="375.9" rx="9.1" ry="14.3"/>
<ellipse cx="658" cy="499.6" rx="9.1" ry="14.3"/>
<ellipse cx="669.3" cy="637.2" rx="9.1" ry="14.3"/>
<ellipse cx="680.7" cy="769.5" rx="9.1" ry="14.3"/>
<ellipse cx="692" cy="887.8" rx="9.1" ry="14.3"/>
<ellipse cx="703.3" cy="979.2" rx="9.1" ry="14.3"/>
<ellipse cx="714.6" cy="1043.7" rx="9.1" ry="14.3"/>
<ellipse cx="725.9" cy="1083" rx="9.1" ry="14.3"/>
<ellipse cx="737.2" cy="1102.9" rx="9.1" ry="14.3"/>
<ellipse cx="748.5" cy="1109.9" rx="9.1" ry="14.3"/>
<ellipse cx="759.8" cy="1108.3" rx="9.1" ry="14.3"/>
<ellipse cx="771.1" cy="1102.9" rx="9.1" ry="14.3"/>
<ellipse cx="782.4" cy="1097.9" rx="9.1" ry="14.3"/>
<ellipse cx="793.7" cy="1095.9" rx="9.1" ry="14.3"/>
<ellipse cx="805" cy="1104" rx="9.1" ry="14.3"/>
<ellipse cx="816.3" cy="1112.9" rx="9.1" ry="14.3"/>
<ellipse cx="827.6" cy="1122.9" rx="9.1" ry="14.3"/>
<ellipse cx="839" cy="1124.4" rx="9.1" ry="14.3"/>
<ellipse cx="850.3" cy="1124.4" rx="9.1" ry="14.3"/>
<ellipse cx="861.6" cy="1124.4" rx="9.1" ry="14.3"/>
<ellipse cx="872.9" cy="1124.4" rx="9.1" ry="14.3"/>
<ellipse cx="884.2" cy="1124.4" rx="9.1" ry="14.3"/>
<ellipse cx="895.5" cy="1124.4" rx="9.1" ry="14.3"/>
<ellipse cx="906.8" cy="1124.4" rx="9.1" ry="14.3"/>
<ellipse cx="918.1" cy="1124.4" rx="9.1" ry="14.3"/>
<ellipse cx="929.4" cy="1124.4" rx="9.1" ry="14.3"/>
<ellipse cx="940.7" cy="1124.4" rx="9.1" ry="14.3"/>
<ellipse cx="952" cy="1124.4" rx="9.1" ry="14.3"/>
<ellipse cx="963.3" cy="1124.4" rx="9.1" ry="14.3"/>
<ellipse cx="974.6" cy="1124.4" rx="9.1" ry="14.3"/>
<ellipse cx="985.9" cy="1124.4" rx="9.1" ry="14.3"/>
<ellipse cx="997.3" cy="1124.4" rx="9.1" ry="14.3"/>
<ellipse cx="1008.6" cy="1124.4" rx="9.1" ry="14.3"/>
<ellipse cx="1019.9" cy="1124.4" rx="9.1" ry="14.3"/>
<ellipse cx="1031.2" cy="1124.4" rx="9.1" ry="14.3"/>
<ellipse cx="1042.5" cy="1124.4" rx="9.1" ry="14.3"/>
<ellipse cx="1053.8" cy="1124.4" rx="9.1" ry="14.3"/>
<ellipse cx="1065.1" cy="1124.4" rx="9.1" ry="14.3"/>
<ellipse cx="1076.4" cy="1124.4" rx="9.1" ry="14.3"/>
<ellipse cx="1087.7" cy="1124.4" rx="9.1" ry="14.3"/>
<ellipse cx="1099" cy="1124.4" rx="9.1" ry="14.3"/>
<ellipse cx="1110.3" cy="1124.4" rx="9.1" ry="14.3"/>
<ellipse cx="1121.6" cy="1124.4" rx="9.1" ry="14.3"/>
<ellipse cx="1132.9" cy="1124.4" rx="9.1" ry="14.3"/>
<ellipse cx="1144.2" cy="1124.4" rx="9.1" ry="14.3"/>
<ellipse cx="1155.6" cy="1124.4" rx="9.1" ry="14.3"/>
<ellipse cx="1166.9" cy="1124.4" rx="9.1" ry="14.3"/>
<ellipse cx="1178.2" cy="1124.4" rx="9.1" ry="14.3"/>
<ellipse cx="1189.5" cy="1124.4" rx="9.1" ry="14.3"/>
<ellipse cx="1200.8" cy="1124.4" rx="9.1" ry="14.3"/>
</g>
<path d="M160.5,1124.4L171.8,1124.4L183.1,1124.4L194.4,1124.4L205.8,1124.4L217.1,1124.4L228.4,1124.4L239.7,1124.4L251,1124.4L262.3,1124.4L273.6,1124.4L284.9,1124.4L296.2,1124.4L307.5,1124.4C311.3,1124.4 315.1,1124.9 318.8,1124.4C322.6,1123.9 326.4,1123 330.1,1121.2C333.9,1119.4 337.7,1120.6 341.4,1113.6C345.2,1106.7 349,1089.6 352.7,1079.2C356.5,1068.8 360.3,1060.2 364.1,1051.3C367.8,1042.3 371.6,1033.3 375.4,1025.5C379.1,1017.6 382.9,1010.2 386.7,1004C390.4,997.7 394.2,991.4 398,987.8C401.7,984.2 405.5,983 409.3,982.4C413.1,981.9 416.8,982.3 420.6,984.6C424.4,986.9 428.1,991.4 431.9,996.4C435.7,1001.4 439.4,1008.1 443.2,1014.7C447,1021.3 450.7,1029 454.5,1036.2C458.3,1043.4 462,1051.6 465.8,1057.7C469.6,1063.8 473.4,1069.2 477.1,1072.8C480.9,1076.4 484.7,1079.4 488.4,1079.2C492.2,1079.1 496,1076.9 499.7,1071.7C503.5,1066.5 507.3,1059.5 511,1048C514.8,1036.6 518.6,1022.1 522.4,1002.9C526.1,983.7 529.9,960.6 533.7,933C537.4,905.4 541.2,873.1 545,837.3C548.7,801.4 552.5,759.7 556.3,717.9C560,676.1 563.8,630.3 567.6,586.7C571.4,543.1 575.1,497.8 578.9,456.6C582.7,415.4 586.4,372.5 590.2,339.4C594,306.2 597.7,278.2 601.5,257.6C605.3,237 609,221.4 612.8,215.7C616.6,210 620.3,212.6 624.1,223.2C627.9,233.8 631.7,253.7 635.4,279.1C639.2,304.6 643,339.2 646.7,375.9C650.5,412.7 654.3,456 658,499.6C661.8,543.1 665.6,592.3 669.3,637.2C673.1,682.2 676.9,727.8 680.7,769.5C684.4,811.3 688.2,852.9 692,887.8C695.7,922.8 699.5,953.2 703.3,979.2C707,1005.2 710.8,1026.4 714.6,1043.7C718.3,1061 722.1,1073.1 725.9,1083C729.7,1092.9 733.4,1098.4 737.2,1102.9C741,1107.4 744.7,1109 748.5,1109.9C752.3,1110.8 756,1109.4 759.8,1108.3C763.6,1107.1 767.3,1104.6 771.1,1102.9C774.9,1101.2 778.6,1099.1 782.4,1097.9C786.2,1096.8 790,1094.9 793.7,1095.9C797.5,1096.9 801.3,1101.1 805,1104C808.8,1106.8 812.6,1109.7 816.3,1112.9C820.1,1116 823.9,1121 827.6,1122.9C831.4,1124.8 835.2,1124.1 839,1124.4C842.7,1124.7 846.5,1124.4 850.3,1124.4L861.6,1124.4L872.9,1124.4L884.2,1124.4L895.5,1124.4L906.8,1124.4L918.1,1124.4L929.4,1124.4L940.7,1124.4L952,1124.4L963.3,1124.4L974.6,1124.4L985.9,1124.4L997.3,1124.4L1008.6,1124.4L1019.9,1124.4L1031.2,1124.4L1042.5,1124.4L1053.8,1124.4L1065.1,1124.4L1076.4,1124.4L1087.7,1124.4L1099,1124.4L1110.3,1124.4L1121.6,1124.4L1132.9,1124.4L1144.2,1124.4L1155.6,1124.4L1166.9,1124.4L1178.2,1124.4L1189.5,1124.4L1200.8,1124.4" fill="none" stroke="#f00" stroke-width="5.1" stroke-linejoin="round"/>
</g></g>
<g stroke="#000" fill="none">
<line x1="245" y1="46" x2="245" y2="1235" stroke-width="8"/>
<line x1="241" y1="49" x2="1856" y2="49" stroke-width="6"/>
<line x1="1855.5" y1="49" x2="1855.5" y2="1232" stroke-width="7"/>
<line x1="233" y1="1232" x2="1859" y2="1232" stroke-width="5.5"/>
<line x1="233" y1="1231.9" x2="245" y2="1231.9" stroke-width="5"/>
<line x1="221" y1="1124.4" x2="245" y2="1124.4" stroke-width="5"/>
<line x1="233" y1="1016.9" x2="245" y2="1016.9" stroke-width="5"/>
<line x1="221" y1="909.3" x2="245" y2="909.3" stroke-width="5"/>
<line x1="233" y1="801.8" x2="245" y2="801.8" stroke-width="5"/>
<line x1="221" y1="694.2" x2="245" y2="694.2" stroke-width="5"/>
<line x1="233" y1="586.7" x2="245" y2="586.7" stroke-width="5"/>
<line x1="221" y1="479.2" x2="245" y2="479.2" stroke-width="5"/>
<line x1="233" y1="371.6" x2="245" y2="371.6" stroke-width="5"/>
<line x1="221" y1="264.1" x2="245" y2="264.1" stroke-width="5"/>
<line x1="233" y1="156.5" x2="245" y2="156.5" stroke-width="5"/>
<line x1="221" y1="49" x2="245" y2="49" stroke-width="5"/>
<line x1="245.2" y1="1232" x2="245.2" y2="1244" stroke-width="7"/>
<line x1="272.6" y1="1232" x2="272.6" y2="1244" stroke-width="7"/>
<line x1="295.8" y1="1232" x2="295.8" y2="1244" stroke-width="7"/>
<line x1="315.9" y1="1232" x2="315.9" y2="1244" stroke-width="7"/>
<line x1="333.6" y1="1232" x2="333.6" y2="1244" stroke-width="7"/>
<line x1="349.4" y1="1232" x2="349.4" y2="1255.5" stroke-width="7"/>
<line x1="453.6" y1="1232" x2="453.6" y2="1244" stroke-width="7"/>
<line x1="514.5" y1="1232" x2="514.5" y2="1244" stroke-width="7"/>
<line x1="557.7" y1="1232" x2="557.7" y2="1244" stroke-width="7"/>
<line x1="591.2" y1="1232" x2="591.2" y2="1244" stroke-width="7"/>
<line x1="618.6" y1="1232" x2="618.6" y2="1244" stroke-width="7"/>
<line x1="641.8" y1="1232" x2="641.8" y2="1244" stroke-width="7"/>
<line x1="661.9" y1="1232" x2="661.9" y2="1244" stroke-width="7"/>
<line x1="679.6" y1="1232" x2="679.6" y2="1244" stroke-width="7"/>
<line x1="695.4" y1="1232" x2="695.4" y2="1255.5" stroke-width="7"/>
<line x1="799.6" y1="1232" x2="799.6" y2="1244" stroke-width="7"/>
<line x1="860.5" y1="1232" x2="860.5" y2="1244" stroke-width="7"/>
<line x1="903.7" y1="1232" x2="903.7" y2="1244" stroke-width="7"/>
<line x1="937.2" y1="1232" x2="937.2" y2="1244" stroke-width="7"/>
<line x1="964.6" y1="1232" x2="964.6" y2="1244" stroke-width="7"/>
<line x1="987.8" y1="1232" x2="987.8" y2="1244" stroke-width="7"/>
<line x1="1007.9" y1="1232" x2="1007.9" y2="1244" stroke-width="7"/>
<line x1="1025.6" y1="1232" x2="1025.6" y2="1244" stroke-width="7"/>
<line x1="1041.4" y1="1232" x2="1041.4" y2="1255.5" stroke-width="7"/>
<line x1="1145.6" y1="1232" x2="1145.6" y2="1244" stroke-width="7"/>
<line x1="1206.5" y1="1232" x2="1206.5" y2="1244" stroke-width="7"/>
<line x1="1249.7" y1="1232" x2="1249.7" y2="1244" stroke-width="7"/>
<line x1="1283.2" y1="1232" x2="1283.2" y2="1244" stroke-width="7"/>
<line x1="1310.6" y1="1232" x2="1310.6" y2="1244" stroke-width="7"/>
<line x1="1333.8" y1="1232" x2="1333.8" y2="1244" stroke-width="7"/>
<line x1="1353.9" y1="1232" x2="1353.9" y2="1244" stroke-width="7"/>
<line x1="1371.6" y1="1232" x2="1371.6" y2="1244" stroke-width="7"/>
<line x1="1387.4" y1="1232" x2="1387.4" y2="1255.5" stroke-width="7"/>
<line x1="1491.6" y1="1232" x2="1491.6" y2="1244" stroke-width="7"/>
<line x1="1552.5" y1="1232" x2="1552.5" y2="1244" stroke-width="7"/>
<line x1="1595.7" y1="1232" x2="1595.7" y2="1244" stroke-width="7"/>
<line x1="1629.2" y1="1232" x2="1629.2" y2="1244" stroke-width="7"/>
<line x1="1656.6" y1="1232" x2="1656.6" y2="1244" stroke-width="7"/>
<line x1="1679.8" y1="1232" x2="1679.8" y2="1244" stroke-width="7"/>
<line x1="1699.9" y1="1232" x2="1699.9" y2="1244" stroke-width="7"/>
<line x1="1717.6" y1="1232" x2="1717.6" y2="1244" stroke-width="7"/>
<line x1="1733.4" y1="1232" x2="1733.4" y2="1255.5" stroke-width="7"/>
<line x1="1837.6" y1="1232" x2="1837.6" y2="1244" stroke-width="7"/>
</g>
<g font-family="Liberation Sans, sans-serif" fill="#000" stroke="#000" stroke-width="0.4">
<text transform="translate(204.3,1142.9) scale(1.3,1)" font-size="52.3" text-anchor="end">0</text>
<text transform="translate(204.3,927.8) scale(1.3,1)" font-size="52.3" text-anchor="end">2</text>
<text transform="translate(204.3,712.7) scale(1.3,1)" font-size="52.3" text-anchor="end">4</text>
<text transform="translate(204.3,497.7) scale(1.3,1)" font-size="52.3" text-anchor="end">6</text>
<text transform="translate(204.3,282.6) scale(1.3,1)" font-size="52.3" text-anchor="end">8</text>
<text transform="translate(204.3,67.5) scale(1.3,1)" font-size="52.3" text-anchor="end">10</text>
<text transform="translate(349.4,1324) scale(1.3,1)" font-size="52.3" text-anchor="middle">0.1</text>
<text transform="translate(695.4,1324) scale(1.3,1)" font-size="52.3" text-anchor="middle">1</text>
<text transform="translate(1041.4,1324) scale(1.3,1)" font-size="52.3" text-anchor="middle">10</text>
<text transform="translate(1387.4,1324) scale(1.3,1)" font-size="52.3" text-anchor="middle">100</text>
<text transform="translate(1733.4,1324) scale(1.3,1)" font-size="52.3" text-anchor="middle">1000</text>
<text transform="translate(765,1404.7) scale(1.29,1)" font-size="53.3">Particle Sizes / <tspan font-family="Liberation Serif, serif">&#956;</tspan>m</text>
<text transform="translate(80.5,843) rotate(-90) scale(1,1.378)" font-size="56.2">Volume / %</text>
</g>
<g transform="scale(1.53,1)">
<g fill="#fff" stroke="#000" stroke-width="2.1"><path d="M945.7,165.5H962.2V190.5H945.7Z"/></g>
<line x1="911.1" y1="178" x2="996.7" y2="178" stroke="#000" stroke-width="5.4"/>
</g>
<text transform="translate(1541,197) scale(1.23,1)" font-size="46.6" font-family="Liberation Sans, sans-serif" stroke="#000" stroke-width="0.4">LZ-0</text>
<g transform="scale(1.53,1)">
<g fill="#fff" stroke="#000" stroke-width="2.1"><path d="M953.9,231.5L965.2,249.3L953.9,267.1L942.7,249.3Z"/></g>
<line x1="911.1" y1="249.3" x2="996.7" y2="249.3" stroke="#000" stroke-width="5.4"/>
</g>
<text transform="translate(1541,268.3) scale(1.23,1)" font-size="46.6" font-family="Liberation Sans, sans-serif" stroke="#000" stroke-width="0.4">LZ-2</text>
<g transform="scale(1.53,1)">
<g fill="#fff" stroke="#00f" stroke-width="2.1"><path d="M941.5,320.6L960.3,303.3L960.3,337.9Z"/></g>
<line x1="911.1" y1="320.6" x2="996.7" y2="320.6" stroke="#00f" stroke-width="5.4"/>
</g>
<text transform="translate(1541,339.6) scale(1.23,1)" font-size="46.6" font-family="Liberation Sans, sans-serif" stroke="#000" stroke-width="0.4">LZ-5</text>
<g transform="scale(1.53,1)">
<g fill="#fff" stroke="#f00" stroke-width="2.1"><ellipse cx="953.9" cy="391.9" rx="9.1" ry="14.3"/></g>
<line x1="911.1" y1="391.9" x2="996.7" y2="391.9" stroke="#f00" stroke-width="5.4"/>
</g>
<text transform="translate(1541,410.9) scale(1.23,1)" font-size="46.6" font-family="Liberation Sans, sans-serif" stroke="#000" stroke-width="0.4">LZ-7</text>
<clipPath id="c2"><rect x="245" y="1465" width="1610.5" height="1213"/></clipPath>
<g clip-path="url(#c2)"><g transform="scale(1.53,1)">
<g fill="#fff" stroke="#000" stroke-width="2.1">
<path d="M152.7,2557.9H168.4V2582.9H152.7Z"/>
<path d="M164,2557.9H179.7V2582.9H164Z"/>
<path d="M175.3,2557.9H191V2582.9H175.3Z"/>
<path d="M186.6,2557.9H202.3V2582.9H186.6Z"/>
<path d="M197.9,2557.9H213.6V2582.9H197.9Z"/>
<path d="M209.2,2557.9H224.9V2582.9H209.2Z"/>
<path d="M220.5,2557.9H236.2V2582.9H220.5Z"/>
<path d="M231.8,2557.9H247.5V2582.9H231.8Z"/>
<path d="M243.1,2557.9H258.8V2582.9H243.1Z"/>
<path d="M254.4,2557.9H270.1V2582.9H254.4Z"/>
<path d="M265.8,2557.9H281.4V2582.9H265.8Z"/>
<path d="M277.1,2557.9H292.7V2582.9H277.1Z"/>
<path d="M288.4,2557.9H304.1V2582.9H288.4Z"/>
<path d="M299.7,2557.9H315.4V2582.9H299.7Z"/>
<path d="M311,2557.9H326.7V2582.9H311Z"/>
<path d="M322.3,2550.4H338V2575.4H322.3Z"/>
<path d="M333.6,2537.5H349.3V2562.5H333.6Z"/>
<path d="M344.9,2514.9H360.6V2539.9H344.9Z"/>
<path d="M356.2,2498.8H371.9V2523.8H356.2Z"/>
<path d="M367.5,2482.6H383.2V2507.6H367.5Z"/>
<path d="M378.8,2475.1H394.5V2500.1H378.8Z"/>
<path d="M390.1,2470.8H405.8V2495.8H390.1Z"/>
<path d="M401.4,2467H417.1V2492H401.4Z"/>
<path d="M412.7,2466.5H428.4V2491.5H412.7Z"/>
<path d="M424.1,2468.6H439.7V2493.6H424.1Z"/>
<path d="M435.4,2469.7H451V2494.7H435.4Z"/>
<path d="M446.7,2471.9H462.4V2496.9H446.7Z"/>
<path d="M458,2464.3H473.7V2489.3H458Z"/>
<path d="M469.3,2439.6H485V2464.6H469.3Z"/>
<path d="M480.6,2404.1H496.3V2429.1H480.6Z"/>
<path d="M491.9,2355.7H507.6V2380.7H491.9Z"/>
<path d="M503.2,2293.4H518.9V2318.4H503.2Z"/>
<path d="M514.5,2220.2H530.2V2245.2H514.5Z"/>
<path d="M525.8,2144.9H541.5V2169.9H525.8Z"/>
<path d="M537.1,2071.8H552.8V2096.8H537.1Z"/>
<path d="M548.4,2008.4H564.1V2033.4H548.4Z"/>
<path d="M559.7,1961.1H575.4V1986.1H559.7Z"/>
<path d="M571,1932H586.7V1957H571Z"/>
<path d="M582.4,1927.7H598V1952.7H582.4Z"/>
<path d="M593.7,1942.8H609.3V1967.8H593.7Z"/>
<path d="M605,1979.3H620.7V2004.3H605Z"/>
<path d="M616.3,2029.9H632V2054.9H616.3Z"/>
<path d="M627.6,2091.2H643.3V2116.2H627.6Z"/>
<path d="M638.9,2158.9H654.6V2183.9H638.9Z"/>
<path d="M650.2,2225.6H665.9V2250.6H650.2Z"/>
<path d="M661.5,2289.1H677.2V2314.1H661.5Z"/>
<path d="M672.8,2343.9H688.5V2368.9H672.8Z"/>
<path d="M684.1,2390.1H699.8V2415.1H684.1Z"/>
<path d="M695.4,2423.5H711.1V2448.5H695.4Z"/>
<path d="M706.7,2446.6H722.4V2471.6H706.7Z"/>
<path d="M718,2461.1H733.7V2486.1H718Z"/>
<path d="M729.3,2468.6H745V2493.6H729.3Z"/>
<path d="M740.7,2471.9H756.3V2496.9H740.7Z"/>
<path d="M752,2472.4H767.6V2497.4H752Z"/>
<path d="M763.3,2472.9H779V2497.9H763.3Z"/>
<path d="M774.6,2474.8H790.3V2499.8H774.6Z"/>
<path d="M785.9,2477.7H801.6V2502.7H785.9Z"/>
<path d="M797.2,2479.6H812.9V2504.6H797.2Z"/>
<path d="M808.5,2483.5H824.2V2508.5H808.5Z"/>
<path d="M819.8,2486.3H835.5V2511.3H819.8Z"/>
<path d="M831.1,2488.3H846.8V2513.3H831.1Z"/>
<path d="M842.4,2490.1H858.1V2515.1H842.4Z"/>
<path d="M853.7,2492.1H869.4V2517.1H853.7Z"/>
<path d="M865,2494H880.7V2519H865Z"/>
<path d="M876.3,2495.8H892V2520.8H876.3Z"/>
<path d="M887.6,2497.9H903.3V2522.9H887.6Z"/>
<path d="M899,2500.7H914.6V2525.7H899Z"/>
<path d="M910.3,2503.6H925.9V2528.6H910.3Z"/>
<path d="M921.6,2506.5H937.3V2531.5H921.6Z"/>
<path d="M932.9,2510.3H948.6V2535.3H932.9Z"/>
<path d="M944.2,2514.9H959.9V2539.9H944.2Z"/>
<path d="M955.5,2518.6H971.2V2543.6H955.5Z"/>
<path d="M966.8,2521.9H982.5V2546.9H966.8Z"/>
<path d="M978.1,2526.2H993.8V2551.2H978.1Z"/>
<path d="M989.4,2529.9H1005.1V2554.9H989.4Z"/>
<path d="M1000.7,2534.2H1016.4V2559.2H1000.7Z"/>
<path d="M1012,2538H1027.7V2563H1012Z"/>
<path d="M1023.3,2541.8H1039V2566.8H1023.3Z"/>
<path d="M1034.6,2546.1H1050.3V2571.1H1034.6Z"/>
<path d="M1045.9,2550.4H1061.6V2575.4H1045.9Z"/>
<path d="M1057.3,2554.7H1072.9V2579.7H1057.3Z"/>
<path d="M1068.6,2557.9H1084.2V2582.9H1068.6Z"/>
<path d="M1079.9,2557.9H1095.6V2582.9H1079.9Z"/>
<path d="M1091.2,2557.9H1106.9V2582.9H1091.2Z"/>
<path d="M1102.5,2557.9H1118.2V2582.9H1102.5Z"/>
<path d="M1113.8,2557.9H1129.5V2582.9H1113.8Z"/>
<path d="M1125.1,2557.9H1140.8V2582.9H1125.1Z"/>
<path d="M1136.4,2557.9H1152.1V2582.9H1136.4Z"/>
<path d="M1147.7,2557.9H1163.4V2582.9H1147.7Z"/>
<path d="M1159,2557.9H1174.7V2582.9H1159Z"/>
<path d="M1170.3,2557.9H1186V2582.9H1170.3Z"/>
<path d="M1181.6,2557.9H1197.3V2582.9H1181.6Z"/>
<path d="M1192.9,2557.9H1208.6V2582.9H1192.9Z"/>
</g>
<path d="M160.5,2570.4L162.4,2570.4L171.8,2570.4L183.1,2570.4L194.4,2570.4L205.8,2570.4L217.1,2570.4L228.4,2570.4L239.7,2570.4L251,2570.4L262.3,2570.4L273.6,2570.4L284.9,2570.4L296.2,2570.4L307.5,2570.4C311.3,2570.4 315.1,2570.4 318.8,2569.1C322.6,2567.9 326.4,2565.4 330.1,2562C333.9,2558.6 337.7,2554.3 341.4,2548.4C345.2,2542.4 349,2534.9 352.7,2528.5C356.5,2522 360.3,2516.6 364.1,2511.3C367.8,2505.9 371.6,2500.5 375.4,2496.6C379.1,2492.6 382.9,2490.1 386.7,2488.1C390.4,2486.2 394.2,2484.7 398,2483.4C401.7,2482 405.5,2480.8 409.3,2480.1C413.1,2479.3 416.8,2479.2 420.6,2479.4C424.4,2479.7 428.1,2480.4 431.9,2481C435.7,2481.5 439.4,2481.9 443.2,2482.4C447,2482.9 450.7,2483.7 454.5,2482.8C458.3,2481.9 462,2479.3 465.8,2474C469.6,2468.6 473.4,2460.4 477.1,2450.3C480.9,2440.3 484.7,2428.4 488.4,2414.5C492.2,2400.5 496,2384.4 499.7,2365.9C503.5,2347.4 507.3,2326.6 511,2304.1C514.8,2281.5 518.6,2257.1 522.4,2232.4C526.1,2207.6 529.9,2182.5 533.7,2157.8C537.4,2133.1 541.2,2108.7 545,2085.9C548.7,2063.2 552.5,2042 556.3,2023.6C560,2005.1 563.8,1989.3 567.6,1976.6C571.4,1963.9 575.1,1954.2 578.9,1948.6C582.7,1943.1 586.4,1941.6 590.2,1943.4C594,1945.2 597.7,1950.3 601.5,1958.9C605.3,1967.5 609,1979.6 612.8,1994.2C616.6,2008.7 620.3,2025.5 624.1,2044.2C627.9,2062.8 631.7,2083.2 635.4,2104.8C639.2,2126.3 643,2148.8 646.7,2171.2C650.5,2193.7 654.3,2215.9 658,2237.6C661.8,2259.3 665.6,2280.4 669.3,2300.1C673.1,2319.8 676.9,2338.1 680.7,2355C684.4,2371.8 688.2,2387.2 692,2400.5C695.7,2413.8 699.5,2424.9 703.3,2434.3C707,2443.7 710.8,2451.4 714.6,2457.7C718.3,2463.9 722.1,2468.8 725.9,2472.4C729.7,2476.1 733.4,2478.6 737.2,2480.4C741,2482.2 744.7,2483.3 748.5,2483.9C752.3,2484.5 756,2484.7 759.8,2484.9C763.6,2485.1 767.3,2485.3 771.1,2485.7C774.9,2486.1 778.6,2486.7 782.4,2487.5C786.2,2488.2 790,2489.2 793.7,2490C797.5,2490.8 801.3,2491.5 805,2492.4C808.8,2493.4 812.6,2494.7 816.3,2495.8C820.1,2496.9 823.9,2497.8 827.6,2498.7C831.4,2499.5 835.2,2500.1 839,2500.8C842.7,2501.4 846.5,2502 850.3,2502.7C854,2503.3 857.8,2503.9 861.6,2504.6C865.3,2505.2 869.1,2505.9 872.9,2506.5C876.6,2507.1 880.4,2507.7 884.2,2508.4C888,2509 891.7,2509.7 895.5,2510.5C899.3,2511.3 903,2512.3 906.8,2513.2C910.6,2514.2 914.3,2515.1 918.1,2516.1C921.9,2517.1 925.6,2518 929.4,2519.1C933.2,2520.3 936.9,2521.5 940.7,2522.9C944.5,2524.3 948.3,2525.8 952,2527.2C955.8,2528.6 959.6,2529.9 963.3,2531.1C967.1,2532.2 970.9,2533.3 974.6,2534.6C978.4,2535.8 982.2,2537.2 985.9,2538.6C989.7,2539.9 993.5,2541.2 997.3,2542.5C1001,2543.9 1004.8,2545.3 1008.6,2546.7C1012.3,2548 1016.1,2549.3 1019.9,2550.5C1023.6,2551.8 1027.4,2553 1031.2,2554.4C1034.9,2555.7 1038.7,2557.1 1042.5,2558.6C1046.3,2560 1050,2561.4 1053.8,2562.9C1057.6,2564.3 1061.3,2565.7 1065.1,2567C1068.9,2568.2 1072.6,2569.3 1076.4,2569.9C1080.2,2570.4 1083.9,2570.4 1087.7,2570.4L1099,2570.4L1110.3,2570.4L1121.6,2570.4L1132.9,2570.4L1144.2,2570.4L1155.6,2570.4L1166.9,2570.4L1178.2,2570.4L1189.5,2570.4L1198.9,2570.4L1200.8,2570.4" fill="none" stroke="#000" stroke-width="5.1" stroke-linejoin="round"/>
<g fill="#fff" stroke="#000" stroke-width="2.1">
<path d="M160.5,2552.6L171.8,2570.4L160.5,2588.2L149.3,2570.4Z"/>
<path d="M171.8,2552.6L183.1,2570.4L171.8,2588.2L160.6,2570.4Z"/>
<path d="M183.1,2552.6L194.4,2570.4L183.1,2588.2L171.9,2570.4Z"/>
<path d="M194.4,2552.6L205.7,2570.4L194.4,2588.2L183.2,2570.4Z"/>
<path d="M205.8,2552.6L217,2570.4L205.8,2588.2L194.5,2570.4Z"/>
<path d="M217.1,2552.6L228.3,2570.4L217.1,2588.2L205.8,2570.4Z"/>
<path d="M228.4,2552.6L239.6,2570.4L228.4,2588.2L217.1,2570.4Z"/>
<path d="M239.7,2552.6L250.9,2570.4L239.7,2588.2L228.4,2570.4Z"/>
<path d="M251,2552.6L262.2,2570.4L251,2588.2L239.7,2570.4Z"/>
<path d="M262.3,2552.6L273.5,2570.4L262.3,2588.2L251,2570.4Z"/>
<path d="M273.6,2552.6L284.8,2570.4L273.6,2588.2L262.4,2570.4Z"/>
<path d="M284.9,2552.6L296.1,2570.4L284.9,2588.2L273.7,2570.4Z"/>
<path d="M296.2,2552.6L307.5,2570.4L296.2,2588.2L285,2570.4Z"/>
<path d="M307.5,2552.6L318.8,2570.4L307.5,2588.2L296.3,2570.4Z"/>
<path d="M318.8,2552.6L330.1,2570.4L318.8,2588.2L307.6,2570.4Z"/>
<path d="M330.1,2552.6L341.4,2570.4L330.1,2588.2L318.9,2570.4Z"/>
<path d="M341.4,2540.8L352.7,2558.6L341.4,2576.4L330.2,2558.6Z"/>
<path d="M352.7,2509.6L364,2527.4L352.7,2545.2L341.5,2527.4Z"/>
<path d="M364.1,2484.8L375.3,2502.6L364.1,2520.4L352.8,2502.6Z"/>
<path d="M375.4,2461.2L386.6,2479L375.4,2496.8L364.1,2479Z"/>
<path d="M386.7,2445.1L397.9,2462.9L386.7,2480.7L375.4,2462.9Z"/>
<path d="M398,2435.4L409.2,2453.2L398,2471L386.7,2453.2Z"/>
<path d="M409.3,2432.7L420.5,2450.5L409.3,2468.3L398,2450.5Z"/>
<path d="M420.6,2437.9L431.8,2455.7L420.6,2473.5L409.3,2455.7Z"/>
<path d="M431.9,2446.7L443.1,2464.5L431.9,2482.3L420.7,2464.5Z"/>
<path d="M443.2,2458L454.4,2475.8L443.2,2493.6L432,2475.8Z"/>
<path d="M454.5,2467.2L465.8,2485L454.5,2502.8L443.3,2485Z"/>
<path d="M465.8,2468.5L477.1,2486.3L465.8,2504.1L454.6,2486.3Z"/>
<path d="M477.1,2458.3L488.4,2476.1L477.1,2493.9L465.9,2476.1Z"/>
<path d="M488.4,2431.1L499.7,2448.9L488.4,2466.7L477.2,2448.9Z"/>
<path d="M499.7,2380.5L511,2398.3L499.7,2416.1L488.5,2398.3Z"/>
<path d="M511,2304.2L522.3,2322L511,2339.8L499.8,2322Z"/>
<path d="M522.4,2202L533.6,2219.8L522.4,2237.6L511.1,2219.8Z"/>
<path d="M533.7,2081.6L544.9,2099.4L533.7,2117.2L522.4,2099.4Z"/>
<path d="M545,1950.4L556.2,1968.2L545,1986L533.7,1968.2Z"/>
<path d="M556.3,1825.6L567.5,1843.4L556.3,1861.2L545,1843.4Z"/>
<path d="M567.6,1721.3L578.8,1739.1L567.6,1756.9L556.3,1739.1Z"/>
<path d="M578.9,1653.6L590.1,1671.4L578.9,1689.2L567.6,1671.4Z"/>
<path d="M590.2,1629.9L601.4,1647.7L590.2,1665.5L579,1647.7Z"/>
<path d="M601.5,1653.6L612.7,1671.4L601.5,1689.2L590.3,1671.4Z"/>
<path d="M612.8,1721.3L624.1,1739.1L612.8,1756.9L601.6,1739.1Z"/>
<path d="M624.1,1824.6L635.4,1842.4L624.1,1860.2L612.9,1842.4Z"/>
<path d="M635.4,1952.5L646.7,1970.3L635.4,1988.1L624.2,1970.3Z"/>
<path d="M646.7,2088L658,2105.8L646.7,2123.6L635.5,2105.8Z"/>
<path d="M658,2218.2L669.3,2236L658,2253.8L646.8,2236Z"/>
<path d="M669.3,2334.3L680.6,2352.1L669.3,2369.9L658.1,2352.1Z"/>
<path d="M680.7,2424.6L691.9,2442.4L680.7,2460.2L669.4,2442.4Z"/>
<path d="M692,2489.2L703.2,2507L692,2524.8L680.7,2507Z"/>
<path d="M703.3,2532.2L714.5,2550L703.3,2567.8L692,2550Z"/>
<path d="M714.6,2550.4L725.8,2568.2L714.6,2586L703.3,2568.2Z"/>
<path d="M725.9,2552.6L737.1,2570.4L725.9,2588.2L714.6,2570.4Z"/>
<path d="M737.2,2552.6L748.4,2570.4L737.2,2588.2L725.9,2570.4Z"/>
<path d="M748.5,2552.6L759.7,2570.4L748.5,2588.2L737.3,2570.4Z"/>
<path d="M759.8,2552.6L771,2570.4L759.8,2588.2L748.6,2570.4Z"/>
<path d="M771.1,2552.6L782.4,2570.4L771.1,2588.2L759.9,2570.4Z"/>
<path d="M782.4,2552.6L793.7,2570.4L782.4,2588.2L771.2,2570.4Z"/>
<path d="M793.7,2552.6L805,2570.4L793.7,2588.2L782.5,2570.4Z"/>
<path d="M805,2552.6L816.3,2570.4L805,2588.2L793.8,2570.4Z"/>
<path d="M816.3,2552.6L827.6,2570.4L816.3,2588.2L805.1,2570.4Z"/>
<path d="M827.6,2552.6L838.9,2570.4L827.6,2588.2L816.4,2570.4Z"/>
<path d="M839,2552.6L850.2,2570.4L839,2588.2L827.7,2570.4Z"/>
<path d="M850.3,2552.6L861.5,2570.4L850.3,2588.2L839,2570.4Z"/>
<path d="M861.6,2552.6L872.8,2570.4L861.6,2588.2L850.3,2570.4Z"/>
<path d="M872.9,2552.6L884.1,2570.4L872.9,2588.2L861.6,2570.4Z"/>
<path d="M884.2,2552.6L895.4,2570.4L884.2,2588.2L872.9,2570.4Z"/>
<path d="M895.5,2552.6L906.7,2570.4L895.5,2588.2L884.2,2570.4Z"/>
<path d="M906.8,2552.6L918,2570.4L906.8,2588.2L895.6,2570.4Z"/>
<path d="M918.1,2552.6L929.3,2570.4L918.1,2588.2L906.9,2570.4Z"/>
<path d="M929.4,2552.6L940.7,2570.4L929.4,2588.2L918.2,2570.4Z"/>
<path d="M940.7,2552.6L952,2570.4L940.7,2588.2L929.5,2570.4Z"/>
<path d="M952,2552.6L963.3,2570.4L952,2588.2L940.8,2570.4Z"/>
<path d="M963.3,2552.6L974.6,2570.4L963.3,2588.2L952.1,2570.4Z"/>
<path d="M974.6,2552.6L985.9,2570.4L974.6,2588.2L963.4,2570.4Z"/>
<path d="M985.9,2552.6L997.2,2570.4L985.9,2588.2L974.7,2570.4Z"/>
<path d="M997.3,2552.6L1008.5,2570.4L997.3,2588.2L986,2570.4Z"/>
<path d="M1008.6,2552.6L1019.8,2570.4L1008.6,2588.2L997.3,2570.4Z"/>
<path d="M1019.9,2552.6L1031.1,2570.4L1019.9,2588.2L1008.6,2570.4Z"/>
<path d="M1031.2,2552.6L1042.4,2570.4L1031.2,2588.2L1019.9,2570.4Z"/>
<path d="M1042.5,2552.6L1053.7,2570.4L1042.5,2588.2L1031.2,2570.4Z"/>
<path d="M1053.8,2552.6L1065,2570.4L1053.8,2588.2L1042.5,2570.4Z"/>
<path d="M1065.1,2552.6L1076.3,2570.4L1065.1,2588.2L1053.9,2570.4Z"/>
<path d="M1076.4,2552.6L1087.6,2570.4L1076.4,2588.2L1065.2,2570.4Z"/>
<path d="M1087.7,2552.6L1099,2570.4L1087.7,2588.2L1076.5,2570.4Z"/>
<path d="M1099,2552.6L1110.3,2570.4L1099,2588.2L1087.8,2570.4Z"/>
<path d="M1110.3,2552.6L1121.6,2570.4L1110.3,2588.2L1099.1,2570.4Z"/>
<path d="M1121.6,2552.6L1132.9,2570.4L1121.6,2588.2L1110.4,2570.4Z"/>
<path d="M1132.9,2552.6L1144.2,2570.4L1132.9,2588.2L1121.7,2570.4Z"/>
<path d="M1144.2,2552.6L1155.5,2570.4L1144.2,2588.2L1133,2570.4Z"/>
<path d="M1155.6,2552.6L1166.8,2570.4L1155.6,2588.2L1144.3,2570.4Z"/>
<path d="M1166.9,2552.6L1178.1,2570.4L1166.9,2588.2L1155.6,2570.4Z"/>
<path d="M1178.2,2552.6L1189.4,2570.4L1178.2,2588.2L1166.9,2570.4Z"/>
<path d="M1189.5,2552.6L1200.7,2570.4L1189.5,2588.2L1178.2,2570.4Z"/>
<path d="M1200.8,2552.6L1212,2570.4L1200.8,2588.2L1189.5,2570.4Z"/>
</g>
<path d="M160.5,2570.4L162.4,2570.4L171.8,2570.4L183.1,2570.4L194.4,2570.4L205.8,2570.4L217.1,2570.4L228.4,2570.4L239.7,2570.4L251,2570.4L262.3,2570.4L273.6,2570.4L284.9,2570.4L296.2,2570.4L307.5,2570.4L318.8,2570.4C322.6,2570.4 326.4,2570.4 330.1,2568.4C333.9,2566.5 337.7,2562.5 341.4,2555.3C345.2,2548.2 349,2537.8 352.7,2528.5C356.5,2519.1 360.3,2510.9 364.1,2502.8C367.8,2494.8 371.6,2486.9 375.4,2480.2C379.1,2473.6 382.9,2468.2 386.7,2463.9C390.4,2459.6 394.2,2456.4 398,2454.3C401.7,2452.3 405.5,2451.4 409.3,2451.8C413.1,2452.2 416.8,2453.9 420.6,2456.3C424.4,2458.6 428.1,2461.5 431.9,2464.9C435.7,2468.2 439.4,2472 443.2,2475.4C447,2478.8 450.7,2481.9 454.5,2483.7C458.3,2485.4 462,2485.9 465.8,2484.4C469.6,2482.9 473.4,2479.5 477.1,2473.3C480.9,2467 484.7,2457.9 488.4,2445C492.2,2432 496,2415.2 499.7,2394C503.5,2372.9 507.3,2347.4 511,2317.7C514.8,2287.9 518.6,2253.9 522.4,2216.8C526.1,2179.7 529.9,2139.5 533.7,2097.6C537.4,2055.6 541.2,2011.9 545,1969.3C548.7,1926.6 552.5,1885 556.3,1846.8C560,1808.7 563.8,1773.9 567.6,1745.2C571.4,1716.5 575.1,1693.9 578.9,1678.7C582.7,1663.5 586.4,1655.6 590.2,1655.6C594,1655.6 597.7,1663.5 601.5,1678.7C605.3,1693.9 609,1716.5 612.8,1745C616.6,1773.5 620.3,1807.9 624.1,1846.5C627.9,1885 631.7,1927.7 635.4,1971.6C639.2,2015.5 643,2060.7 646.7,2104.9C650.5,2149.2 654.3,2192.6 658,2233.6C661.8,2274.7 665.6,2313.4 669.3,2347.8C673.1,2382.2 676.9,2412.3 680.7,2438.1C684.4,2463.9 688.2,2485.4 692,2503.4C695.7,2521.3 699.5,2535.6 703.3,2545.8C707,2556.1 710.8,2562.2 714.6,2565.6C718.3,2569 722.1,2569.7 725.9,2570C729.7,2570.4 733.4,2570.4 737.2,2570.4L748.5,2570.4L759.8,2570.4L771.1,2570.4L782.4,2570.4L793.7,2570.4L805,2570.4L816.3,2570.4L827.6,2570.4L839,2570.4L850.3,2570.4L861.6,2570.4L872.9,2570.4L884.2,2570.4L895.5,2570.4L906.8,2570.4L918.1,2570.4L929.4,2570.4L940.7,2570.4L952,2570.4L963.3,2570.4L974.6,2570.4L985.9,2570.4L997.3,2570.4L1008.6,2570.4L1019.9,2570.4L1031.2,2570.4L1042.5,2570.4L1053.8,2570.4L1065.1,2570.4L1076.4,2570.4L1087.7,2570.4L1099,2570.4L1110.3,2570.4L1121.6,2570.4L1132.9,2570.4L1144.2,2570.4L1155.6,2570.4L1166.9,2570.4L1178.2,2570.4L1189.5,2570.4L1198.9,2570.4L1200.8,2570.4" fill="none" stroke="#000" stroke-width="5.1" stroke-linejoin="round"/>
<g fill="#fff" stroke="#00f" stroke-width="2.1">
<path d="M148.8,2570.4L166.9,2553.9L166.9,2586.9Z"/>
<path d="M160.1,2570.4L178.2,2553.9L178.2,2586.9Z"/>
<path d="M171.4,2570.4L189.5,2553.9L189.5,2586.9Z"/>
<path d="M182.7,2570.4L200.8,2553.9L200.8,2586.9Z"/>
<path d="M194,2570.4L212.2,2553.9L212.2,2586.9Z"/>
<path d="M205.3,2570.4L223.5,2553.9L223.5,2586.9Z"/>
<path d="M216.6,2570.4L234.8,2553.9L234.8,2586.9Z"/>
<path d="M227.9,2570.4L246.1,2553.9L246.1,2586.9Z"/>
<path d="M239.2,2570.4L257.4,2553.9L257.4,2586.9Z"/>
<path d="M250.5,2570.4L268.7,2553.9L268.7,2586.9Z"/>
<path d="M261.8,2570.4L280,2553.9L280,2586.9Z"/>
<path d="M273.1,2570.4L291.3,2553.9L291.3,2586.9Z"/>
<path d="M284.4,2570.4L302.6,2553.9L302.6,2586.9Z"/>
<path d="M295.8,2570.4L313.9,2553.9L313.9,2586.9Z"/>
<path d="M307.1,2570.4L325.2,2553.9L325.2,2586.9Z"/>
<path d="M318.4,2570.4L336.5,2553.9L336.5,2586.9Z"/>
<path d="M329.7,2561.8L347.8,2545.3L347.8,2578.3Z"/>
<path d="M341,2528.5L359.2,2512L359.2,2545Z"/>
<path d="M352.3,2503.7L370.5,2487.2L370.5,2520.2Z"/>
<path d="M363.6,2481.1L381.8,2464.6L381.8,2497.6Z"/>
<path d="M374.9,2457.5L393.1,2441L393.1,2474Z"/>
<path d="M386.2,2434.9L404.4,2418.4L404.4,2451.4Z"/>
<path d="M397.5,2413.4L415.7,2396.9L415.7,2429.9Z"/>
<path d="M408.8,2394L427,2377.5L427,2410.5Z"/>
<path d="M420.1,2373.6L438.3,2357.1L438.3,2390.1Z"/>
<path d="M431.4,2348.9L449.6,2332.4L449.6,2365.4Z"/>
<path d="M442.7,2317.7L460.9,2301.2L460.9,2334.2Z"/>
<path d="M454.1,2274.7L472.2,2258.2L472.2,2291.2Z"/>
<path d="M465.4,2222L483.5,2205.5L483.5,2238.5Z"/>
<path d="M476.7,2151L494.8,2134.5L494.8,2167.5Z"/>
<path d="M488,2067.1L506.1,2050.6L506.1,2083.6Z"/>
<path d="M499.3,1973.6L517.5,1957.1L517.5,1990.1Z"/>
<path d="M510.6,1882.1L528.8,1865.6L528.8,1898.6Z"/>
<path d="M521.9,1803.6L540.1,1787.1L540.1,1820.1Z"/>
<path d="M533.2,1758.5L551.4,1742L551.4,1775Z"/>
<path d="M544.5,1739.1L562.7,1722.6L562.7,1755.6Z"/>
<path d="M555.8,1756.3L574,1739.8L574,1772.8Z"/>
<path d="M567.1,1815.5L585.3,1799L585.3,1832Z"/>
<path d="M578.4,1906.9L596.6,1890.4L596.6,1923.4Z"/>
<path d="M589.7,2017.6L607.9,2001.1L607.9,2034.1Z"/>
<path d="M601,2138.1L619.2,2121.6L619.2,2154.6Z"/>
<path d="M612.4,2254.2L630.5,2237.7L630.5,2270.7Z"/>
<path d="M623.7,2357.5L641.8,2341L641.8,2374Z"/>
<path d="M635,2440.3L653.1,2423.8L653.1,2456.8Z"/>
<path d="M646.3,2499.4L664.4,2482.9L664.4,2515.9Z"/>
<path d="M657.6,2538.1L675.8,2521.6L675.8,2554.6Z"/>
<path d="M668.9,2559.6L687.1,2543.1L687.1,2576.1Z"/>
<path d="M680.2,2563.9L698.4,2547.4L698.4,2580.4Z"/>
<path d="M691.5,2565L709.7,2548.5L709.7,2581.5Z"/>
<path d="M702.8,2563.9L721,2547.4L721,2580.4Z"/>
<path d="M714.1,2561.8L732.3,2545.3L732.3,2578.3Z"/>
<path d="M725.4,2559.6L743.6,2543.1L743.6,2576.1Z"/>
<path d="M736.7,2559.6L754.9,2543.1L754.9,2576.1Z"/>
<path d="M748,2561.8L766.2,2545.3L766.2,2578.3Z"/>
<path d="M759.3,2565L777.5,2548.5L777.5,2581.5Z"/>
<path d="M770.7,2568.2L788.8,2551.7L788.8,2584.7Z"/>
<path d="M782,2570.4L800.1,2553.9L800.1,2586.9Z"/>
<path d="M793.3,2570.4L811.4,2553.9L811.4,2586.9Z"/>
<path d="M804.6,2570.4L822.7,2553.9L822.7,2586.9Z"/>
<path d="M815.9,2570.4L834.1,2553.9L834.1,2586.9Z"/>
<path d="M827.2,2570.4L845.4,2553.9L845.4,2586.9Z"/>
<path d="M838.5,2570.4L856.7,2553.9L856.7,2586.9Z"/>
<path d="M849.8,2570.4L868,2553.9L868,2586.9Z"/>
<path d="M861.1,2570.4L879.3,2553.9L879.3,2586.9Z"/>
<path d="M872.4,2570.4L890.6,2553.9L890.6,2586.9Z"/>
<path d="M883.7,2570.4L901.9,2553.9L901.9,2586.9Z"/>
<path d="M895,2570.4L913.2,2553.9L913.2,2586.9Z"/>
<path d="M906.3,2570.4L924.5,2553.9L924.5,2586.9Z"/>
<path d="M917.6,2570.4L935.8,2553.9L935.8,2586.9Z"/>
<path d="M929,2570.4L947.1,2553.9L947.1,2586.9Z"/>
<path d="M940.3,2570.4L958.4,2553.9L958.4,2586.9Z"/>
<path d="M951.6,2570.4L969.7,2553.9L969.7,2586.9Z"/>
<path d="M962.9,2570.4L981,2553.9L981,2586.9Z"/>
<path d="M974.2,2570.4L992.4,2553.9L992.4,2586.9Z"/>
<path d="M985.5,2570.4L1003.7,2553.9L1003.7,2586.9Z"/>
<path d="M996.8,2570.4L1015,2553.9L1015,2586.9Z"/>
<path d="M1008.1,2570.4L1026.3,2553.9L1026.3,2586.9Z"/>
<path d="M1019.4,2570.4L1037.6,2553.9L1037.6,2586.9Z"/>
<path d="M1030.7,2570.4L1048.9,2553.9L1048.9,2586.9Z"/>
<path d="M1042,2570.4L1060.2,2553.9L1060.2,2586.9Z"/>
<path d="M1053.3,2570.4L1071.5,2553.9L1071.5,2586.9Z"/>
<path d="M1064.6,2570.4L1082.8,2553.9L1082.8,2586.9Z"/>
<path d="M1075.9,2570.4L1094.1,2553.9L1094.1,2586.9Z"/>
<path d="M1087.3,2570.4L1105.4,2553.9L1105.4,2586.9Z"/>
<path d="M1098.6,2570.4L1116.7,2553.9L1116.7,2586.9Z"/>
<path d="M1109.9,2570.4L1128,2553.9L1128,2586.9Z"/>
<path d="M1121.2,2570.4L1139.3,2553.9L1139.3,2586.9Z"/>
<path d="M1132.5,2570.4L1150.7,2553.9L1150.7,2586.9Z"/>
<path d="M1143.8,2570.4L1162,2553.9L1162,2586.9Z"/>
<path d="M1155.1,2570.4L1173.3,2553.9L1173.3,2586.9Z"/>
<path d="M1166.4,2570.4L1184.6,2553.9L1184.6,2586.9Z"/>
<path d="M1177.7,2570.4L1195.9,2553.9L1195.9,2586.9Z"/>
<path d="M1189,2570.4L1207.2,2553.9L1207.2,2586.9Z"/>
</g>
<path d="M160.5,2570.4L162.4,2570.4L171.8,2570.4L183.1,2570.4L194.4,2570.4L205.8,2570.4L217.1,2570.4L228.4,2570.4L239.7,2570.4L251,2570.4L262.3,2570.4L273.6,2570.4L284.9,2570.4L296.2,2570.4L307.5,2570.4L318.8,2570.4C322.6,2570.4 326.4,2570.4 330.1,2569C333.9,2567.5 337.7,2564.7 341.4,2557.7C345.2,2550.7 349,2539.6 352.7,2529.9C356.5,2520.2 360.3,2512 364.1,2504.1C367.8,2496.2 371.6,2488.7 375.4,2481C379.1,2473.3 382.9,2465.4 386.7,2457.7C390.4,2450 394.2,2442.4 398,2435.1C401.7,2427.7 405.5,2420.6 409.3,2413.8C413.1,2406.9 416.8,2400.5 420.6,2393.9C424.4,2387.2 428.1,2380.4 431.9,2372.9C435.7,2365.4 439.4,2357.1 443.2,2347.8C447,2338.5 450.7,2328.1 454.5,2315.7C458.3,2303.3 462,2289 465.8,2273.1C469.6,2257.1 473.4,2239.5 477.1,2218.9C480.9,2198.3 484.7,2174.7 488.4,2148.8C492.2,2123 496,2095.1 499.7,2065.5C503.5,2035.9 507.3,2004.7 511,1973.9C514.8,1943.1 518.6,1912.6 522.4,1884.3C526.1,1856 529.9,1829.8 533.7,1809.2C537.4,1788.6 541.2,1773.5 545,1762.8C548.7,1752 552.5,1745.6 556.3,1745.2C560,1744.9 563.8,1750.6 567.6,1763.3C571.4,1776 575.1,1795.8 578.9,1820.8C582.7,1845.9 586.4,1876.4 590.2,1910.1C594,1943.8 597.7,1980.7 601.5,2019.3C605.3,2057.8 609,2097.9 612.8,2137.4C616.6,2176.8 620.3,2215.5 624.1,2252.1C627.9,2288.6 631.7,2323.1 635.4,2354.1C639.2,2385.1 643,2412.7 646.7,2436.3C650.5,2460 654.3,2479.7 658,2496C661.8,2512.3 665.6,2525.2 669.3,2535.3C673.1,2545.3 676.9,2552.5 680.7,2556.8C684.4,2561.1 688.2,2562.5 692,2563.4C695.7,2564.3 699.5,2564.7 703.3,2564.7C707,2564.7 710.8,2564.3 714.6,2563.8C718.3,2563.2 722.1,2562.5 725.9,2561.8C729.7,2561.1 733.4,2560.4 737.2,2560C741,2559.6 744.7,2559.6 748.5,2560C752.3,2560.4 756,2561.1 759.8,2562C763.6,2562.9 767.3,2563.9 771.1,2565C774.9,2566.1 778.6,2567.2 782.4,2568.1C786.2,2569 790,2569.7 793.7,2570C797.5,2570.4 801.3,2570.4 805,2570.4L816.3,2570.4L827.6,2570.4L839,2570.4L850.3,2570.4L861.6,2570.4L872.9,2570.4L884.2,2570.4L895.5,2570.4L906.8,2570.4L918.1,2570.4L929.4,2570.4L940.7,2570.4L952,2570.4L963.3,2570.4L974.6,2570.4L985.9,2570.4L997.3,2570.4L1008.6,2570.4L1019.9,2570.4L1031.2,2570.4L1042.5,2570.4L1053.8,2570.4L1065.1,2570.4L1076.4,2570.4L1087.7,2570.4L1099,2570.4L1110.3,2570.4L1121.6,2570.4L1132.9,2570.4L1144.2,2570.4L1155.6,2570.4L1166.9,2570.4L1178.2,2570.4L1189.5,2570.4L1198.9,2570.4L1200.8,2570.4" fill="none" stroke="#00f" stroke-width="5.1" stroke-linejoin="round"/>
<g fill="#fff" stroke="#f00" stroke-width="2.1">
<ellipse cx="160.5" cy="2570.4" rx="9.1" ry="14.3"/>
<ellipse cx="171.8" cy="2570.4" rx="9.1" ry="14.3"/>
<ellipse cx="183.1" cy="2570.4" rx="9.1" ry="14.3"/>
<ellipse cx="194.4" cy="2570.4" rx="9.1" ry="14.3"/>
<ellipse cx="205.8" cy="2570.4" rx="9.1" ry="14.3"/>
<ellipse cx="217.1" cy="2570.4" rx="9.1" ry="14.3"/>
<ellipse cx="228.4" cy="2570.4" rx="9.1" ry="14.3"/>
<ellipse cx="239.7" cy="2570.4" rx="9.1" ry="14.3"/>
<ellipse cx="251" cy="2570.4" rx="9.1" ry="14.3"/>
<ellipse cx="262.3" cy="2570.4" rx="9.1" ry="14.3"/>
<ellipse cx="273.6" cy="2570.4" rx="9.1" ry="14.3"/>
<ellipse cx="284.9" cy="2570.4" rx="9.1" ry="14.3"/>
<ellipse cx="296.2" cy="2570.4" rx="9.1" ry="14.3"/>
<ellipse cx="307.5" cy="2570.4" rx="9.1" ry="14.3"/>
<ellipse cx="318.8" cy="2570.4" rx="9.1" ry="14.3"/>
<ellipse cx="330.1" cy="2569.3" rx="9.1" ry="14.3"/>
<ellipse cx="341.4" cy="2563.4" rx="9.1" ry="14.3"/>
<ellipse cx="352.7" cy="2531.4" rx="9.1" ry="14.3"/>
<ellipse cx="364.1" cy="2497.7" rx="9.1" ry="14.3"/>
<ellipse cx="375.4" cy="2461.5" rx="9.1" ry="14.3"/>
<ellipse cx="386.7" cy="2425.2" rx="9.1" ry="14.3"/>
<ellipse cx="398" cy="2396.2" rx="9.1" ry="14.3"/>
<ellipse cx="409.3" cy="2372.5" rx="9.1" ry="14.3"/>
<ellipse cx="420.6" cy="2355.3" rx="9.1" ry="14.3"/>
<ellipse cx="431.9" cy="2344.6" rx="9.1" ry="14.3"/>
<ellipse cx="443.2" cy="2332.7" rx="9.1" ry="14.3"/>
<ellipse cx="454.5" cy="2317.7" rx="9.1" ry="14.3"/>
<ellipse cx="465.8" cy="2289.7" rx="9.1" ry="14.3"/>
<ellipse cx="477.1" cy="2245.6" rx="9.1" ry="14.3"/>
<ellipse cx="488.4" cy="2177.9" rx="9.1" ry="14.3"/>
<ellipse cx="499.7" cy="2086.5" rx="9.1" ry="14.3"/>
<ellipse cx="511" cy="1973.6" rx="9.1" ry="14.3"/>
<ellipse cx="522.4" cy="1857.4" rx="9.1" ry="14.3"/>
<ellipse cx="533.7" cy="1756.3" rx="9.1" ry="14.3"/>
<ellipse cx="545" cy="1693.9" rx="9.1" ry="14.3"/>
<ellipse cx="556.3" cy="1682.1" rx="9.1" ry="14.3"/>
<ellipse cx="567.6" cy="1727.3" rx="9.1" ry="14.3"/>
<ellipse cx="578.9" cy="1818.7" rx="9.1" ry="14.3"/>
<ellipse cx="590.2" cy="1945.6" rx="9.1" ry="14.3"/>
<ellipse cx="601.5" cy="2085.4" rx="9.1" ry="14.3"/>
<ellipse cx="612.8" cy="2220.9" rx="9.1" ry="14.3"/>
<ellipse cx="624.1" cy="2336" rx="9.1" ry="14.3"/>
<ellipse cx="635.4" cy="2426.3" rx="9.1" ry="14.3"/>
<ellipse cx="646.7" cy="2488.7" rx="9.1" ry="14.3"/>
<ellipse cx="658" cy="2532.8" rx="9.1" ry="14.3"/>
<ellipse cx="669.3" cy="2556.7" rx="9.1" ry="14.3"/>
<ellipse cx="680.7" cy="2561.8" rx="9.1" ry="14.3"/>
<ellipse cx="692" cy="2559.6" rx="9.1" ry="14.3"/>
<ellipse cx="703.3" cy="2558.6" rx="9.1" ry="14.3"/>
<ellipse cx="714.6" cy="2553.8" rx="9.1" ry="14.3"/>
<ellipse cx="725.9" cy="2550" rx="9.1" ry="14.3"/>
<ellipse cx="737.2" cy="2545.7" rx="9.1" ry="14.3"/>
<ellipse cx="748.5" cy="2544.1" rx="9.1" ry="14.3"/>
<ellipse cx="759.8" cy="2545" rx="9.1" ry="14.3"/>
<ellipse cx="771.1" cy="2552.8" rx="9.1" ry="14.3"/>
<ellipse cx="782.4" cy="2560" rx="9.1" ry="14.3"/>
<ellipse cx="793.7" cy="2567.2" rx="9.1" ry="14.3"/>
<ellipse cx="805" cy="2570.4" rx="9.1" ry="14.3"/>
<ellipse cx="816.3" cy="2570.4" rx="9.1" ry="14.3"/>
<ellipse cx="827.6" cy="2570.4" rx="9.1" ry="14.3"/>
<ellipse cx="839" cy="2570.4" rx="9.1" ry="14.3"/>
<ellipse cx="850.3" cy="2570.4" rx="9.1" ry="14.3"/>
<ellipse cx="861.6" cy="2570.4" rx="9.1" ry="14.3"/>
<ellipse cx="872.9" cy="2570.4" rx="9.1" ry="14.3"/>
<ellipse cx="884.2" cy="2570.4" rx="9.1" ry="14.3"/>
<ellipse cx="895.5" cy="2570.4" rx="9.1" ry="14.3"/>
<ellipse cx="906.8" cy="2570.4" rx="9.1" ry="14.3"/>
<ellipse cx="918.1" cy="2570.4" rx="9.1" ry="14.3"/>
<ellipse cx="929.4" cy="2570.4" rx="9.1" ry="14.3"/>
<ellipse cx="940.7" cy="2570.4" rx="9.1" ry="14.3"/>
<ellipse cx="952" cy="2570.4" rx="9.1" ry="14.3"/>
<ellipse cx="963.3" cy="2570.4" rx="9.1" ry="14.3"/>
<ellipse cx="974.6" cy="2570.4" rx="9.1" ry="14.3"/>
<ellipse cx="985.9" cy="2570.4" rx="9.1" ry="14.3"/>
<ellipse cx="997.3" cy="2570.4" rx="9.1" ry="14.3"/>
<ellipse cx="1008.6" cy="2570.4" rx="9.1" ry="14.3"/>
<ellipse cx="1019.9" cy="2570.4" rx="9.1" ry="14.3"/>
<ellipse cx="1031.2" cy="2570.4" rx="9.1" ry="14.3"/>
<ellipse cx="1042.5" cy="2570.4" rx="9.1" ry="14.3"/>
<ellipse cx="1053.8" cy="2570.4" rx="9.1" ry="14.3"/>
<ellipse cx="1065.1" cy="2570.4" rx="9.1" ry="14.3"/>
<ellipse cx="1076.4" cy="2570.4" rx="9.1" ry="14.3"/>
<ellipse cx="1087.7" cy="2570.4" rx="9.1" ry="14.3"/>
<ellipse cx="1099" cy="2570.4" rx="9.1" ry="14.3"/>
<ellipse cx="1110.3" cy="2570.4" rx="9.1" ry="14.3"/>
<ellipse cx="1121.6" cy="2570.4" rx="9.1" ry="14.3"/>
<ellipse cx="1132.9" cy="2570.4" rx="9.1" ry="14.3"/>
<ellipse cx="1144.2" cy="2570.4" rx="9.1" ry="14.3"/>
<ellipse cx="1155.6" cy="2570.4" rx="9.1" ry="14.3"/>
<ellipse cx="1166.9" cy="2570.4" rx="9.1" ry="14.3"/>
<ellipse cx="1178.2" cy="2570.4" rx="9.1" ry="14.3"/>
<ellipse cx="1189.5" cy="2570.4" rx="9.1" ry="14.3"/>
<ellipse cx="1200.8" cy="2570.4" rx="9.1" ry="14.3"/>
</g>
<path d="M160.5,2570.4L171.8,2570.4L183.1,2570.4L194.4,2570.4L205.8,2570.4L217.1,2570.4L228.4,2570.4L239.7,2570.4L251,2570.4L262.3,2570.4L273.6,2570.4L284.9,2570.4L296.2,2570.4L307.5,2570.4C311.3,2570.4 315.1,2570.6 318.8,2570.4C322.6,2570.2 326.4,2570.5 330.1,2569.3C333.9,2568.2 337.7,2569.7 341.4,2563.4C345.2,2557.1 349,2542.3 352.7,2531.4C356.5,2520.4 360.3,2509.4 364.1,2497.7C367.8,2486.1 371.6,2473.5 375.4,2461.5C379.1,2449.4 382.9,2436.1 386.7,2425.2C390.4,2414.3 394.2,2405 398,2396.2C401.7,2387.4 405.5,2379.3 409.3,2372.5C413.1,2365.7 416.8,2360 420.6,2355.3C424.4,2350.7 428.1,2348.3 431.9,2344.6C435.7,2340.8 439.4,2337.2 443.2,2332.7C447,2328.3 450.7,2324.9 454.5,2317.7C458.3,2310.5 462,2301.7 465.8,2289.7C469.6,2277.7 473.4,2264.3 477.1,2245.6C480.9,2227 484.7,2204.4 488.4,2177.9C492.2,2151.4 496,2120.5 499.7,2086.5C503.5,2052.4 507.3,2011.7 511,1973.6C514.8,1935.4 518.6,1893.6 522.4,1857.4C526.1,1821.2 529.9,1783.6 533.7,1756.3C537.4,1729.1 541.2,1706.3 545,1693.9C548.7,1681.6 552.5,1676.6 556.3,1682.1C560,1687.7 563.8,1704.5 567.6,1727.3C571.4,1750 575.1,1782.3 578.9,1818.7C582.7,1855.1 586.4,1901.1 590.2,1945.6C594,1990 597.7,2039.5 601.5,2085.4C605.3,2131.3 609,2179.1 612.8,2220.9C616.6,2262.7 620.3,2301.7 624.1,2336C627.9,2370.2 631.7,2400.8 635.4,2426.3C639.2,2451.7 643,2470.9 646.7,2488.7C650.5,2506.4 654.3,2521.4 658,2532.8C661.8,2544.1 665.6,2551.9 669.3,2556.7C673.1,2561.6 676.9,2561.3 680.7,2561.8C684.4,2562.3 688.2,2560.2 692,2559.6C695.7,2559.1 699.5,2559.5 703.3,2558.6C707,2557.6 710.8,2555.3 714.6,2553.8C718.3,2552.4 722.1,2551.3 725.9,2550C729.7,2548.6 733.4,2546.7 737.2,2545.7C741,2544.7 744.7,2544.2 748.5,2544.1C752.3,2543.9 756,2543.6 759.8,2545C763.6,2546.5 767.3,2550.3 771.1,2552.8C774.9,2555.3 778.6,2557.6 782.4,2560C786.2,2562.4 790,2565.4 793.7,2567.2C797.5,2568.9 801.3,2569.9 805,2570.4C808.8,2570.9 812.6,2570.4 816.3,2570.4L827.6,2570.4L839,2570.4L850.3,2570.4L861.6,2570.4L872.9,2570.4L884.2,2570.4L895.5,2570.4L906.8,2570.4L918.1,2570.4L929.4,2570.4L940.7,2570.4L952,2570.4L963.3,2570.4L974.6,2570.4L985.9,2570.4L997.3,2570.4L1008.6,2570.4L1019.9,2570.4L1031.2,2570.4L1042.5,2570.4L1053.8,2570.4L1065.1,2570.4L1076.4,2570.4L1087.7,2570.4L1099,2570.4L1110.3,2570.4L1121.6,2570.4L1132.9,2570.4L1144.2,2570.4L1155.6,2570.4L1166.9,2570.4L1178.2,2570.4L1189.5,2570.4L1200.8,2570.4" fill="none" stroke="#f00" stroke-width="5.1" stroke-linejoin="round"/>
</g></g>
<g stroke="#000" fill="none">
<line x1="245" y1="1492" x2="245" y2="2681" stroke-width="8"/>
<line x1="241" y1="1495" x2="1856" y2="1495" stroke-width="6"/>
<line x1="1855.5" y1="1495" x2="1855.5" y2="2678" stroke-width="7"/>
<line x1="233" y1="2678" x2="1859" y2="2678" stroke-width="5.5"/>
<line x1="233" y1="2677.9" x2="245" y2="2677.9" stroke-width="5"/>
<line x1="221" y1="2570.4" x2="245" y2="2570.4" stroke-width="5"/>
<line x1="233" y1="2462.9" x2="245" y2="2462.9" stroke-width="5"/>
<line x1="221" y1="2355.3" x2="245" y2="2355.3" stroke-width="5"/>
<line x1="233" y1="2247.8" x2="245" y2="2247.8" stroke-width="5"/>
<line x1="221" y1="2140.2" x2="245" y2="2140.2" stroke-width="5"/>
<line x1="233" y1="2032.7" x2="245" y2="2032.7" stroke-width="5"/>
<line x1="221" y1="1925.2" x2="245" y2="1925.2" stroke-width="5"/>
<line x1="233" y1="1817.6" x2="245" y2="1817.6" stroke-width="5"/>
<line x1="221" y1="1710.1" x2="245" y2="1710.1" stroke-width="5"/>
<line x1="233" y1="1602.5" x2="245" y2="1602.5" stroke-width="5"/>
<line x1="221" y1="1495" x2="245" y2="1495" stroke-width="5"/>
<line x1="245.2" y1="2678" x2="245.2" y2="2690" stroke-width="7"/>
<line x1="272.6" y1="2678" x2="272.6" y2="2690" stroke-width="7"/>
<line x1="295.8" y1="2678" x2="295.8" y2="2690" stroke-width="7"/>
<line x1="315.9" y1="2678" x2="315.9" y2="2690" stroke-width="7"/>
<line x1="333.6" y1="2678" x2="333.6" y2="2690" stroke-width="7"/>
<line x1="349.4" y1="2678" x2="349.4" y2="2701.5" stroke-width="7"/>
<line x1="453.6" y1="2678" x2="453.6" y2="2690" stroke-width="7"/>
<line x1="514.5" y1="2678" x2="514.5" y2="2690" stroke-width="7"/>
<line x1="557.7" y1="2678" x2="557.7" y2="2690" stroke-width="7"/>
<line x1="591.2" y1="2678" x2="591.2" y2="2690" stroke-width="7"/>
<line x1="618.6" y1="2678" x2="618.6" y2="2690" stroke-width="7"/>
<line x1="641.8" y1="2678" x2="641.8" y2="2690" stroke-width="7"/>
<line x1="661.9" y1="2678" x2="661.9" y2="2690" stroke-width="7"/>
<line x1="679.6" y1="2678" x2="679.6" y2="2690" stroke-width="7"/>
<line x1="695.4" y1="2678" x2="695.4" y2="2701.5" stroke-width="7"/>
<line x1="799.6" y1="2678" x2="799.6" y2="2690" stroke-width="7"/>
<line x1="860.5" y1="2678" x2="860.5" y2="2690" stroke-width="7"/>
<line x1="903.7" y1="2678" x2="903.7" y2="2690" stroke-width="7"/>
<line x1="937.2" y1="2678" x2="937.2" y2="2690" stroke-width="7"/>
<line x1="964.6" y1="2678" x2="964.6" y2="2690" stroke-width="7"/>
<line x1="987.8" y1="2678" x2="987.8" y2="2690" stroke-width="7"/>
<line x1="1007.9" y1="2678" x2="1007.9" y2="2690" stroke-width="7"/>
<line x1="1025.6" y1="2678" x2="1025.6" y2="2690" stroke-width="7"/>
<line x1="1041.4" y1="2678" x2="1041.4" y2="2701.5" stroke-width="7"/>
<line x1="1145.6" y1="2678" x2="1145.6" y2="2690" stroke-width="7"/>
<line x1="1206.5" y1="2678" x2="1206.5" y2="2690" stroke-width="7"/>
<line x1="1249.7" y1="2678" x2="1249.7" y2="2690" stroke-width="7"/>
<line x1="1283.2" y1="2678" x2="1283.2" y2="2690" stroke-width="7"/>
<line x1="1310.6" y1="2678" x2="1310.6" y2="2690" stroke-width="7"/>
<line x1="1333.8" y1="2678" x2="1333.8" y2="2690" stroke-width="7"/>
<line x1="1353.9" y1="2678" x2="1353.9" y2="2690" stroke-width="7"/>
<line x1="1371.6" y1="2678" x2="1371.6" y2="2690" stroke-width="7"/>
<line x1="1387.4" y1="2678" x2="1387.4" y2="2701.5" stroke-width="7"/>
<line x1="1491.6" y1="2678" x2="1491.6" y2="2690" stroke-width="7"/>
<line x1="1552.5" y1="2678" x2="1552.5" y2="2690" stroke-width="7"/>
<line x1="1595.7" y1="2678" x2="1595.7" y2="2690" stroke-width="7"/>
<line x1="1629.2" y1="2678" x2="1629.2" y2="2690" stroke-width="7"/>
<line x1="1656.6" y1="2678" x2="1656.6" y2="2690" stroke-width="7"/>
<line x1="1679.8" y1="2678" x2="1679.8" y2="2690" stroke-width="7"/>
<line x1="1699.9" y1="2678" x2="1699.9" y2="2690" stroke-width="7"/>
<line x1="1717.6" y1="2678" x2="1717.6" y2="2690" stroke-width="7"/>
<line x1="1733.4" y1="2678" x2="1733.4" y2="2701.5" stroke-width="7"/>
<line x1="1837.6" y1="2678" x2="1837.6" y2="2690" stroke-width="7"/>
</g>
<g font-family="Liberation Sans, sans-serif" fill="#000" stroke="#000" stroke-width="0.4">
<text transform="translate(204.3,2588.9) scale(1.3,1)" font-size="52.3" text-anchor="end">0</text>
<text transform="translate(204.3,2373.8) scale(1.3,1)" font-size="52.3" text-anchor="end">2</text>
<text transform="translate(204.3,2158.7) scale(1.3,1)" font-size="52.3" text-anchor="end">4</text>
<text transform="translate(204.3,1943.7) scale(1.3,1)" font-size="52.3" text-anchor="end">6</text>
<text transform="translate(204.3,1728.6) scale(1.3,1)" font-size="52.3" text-anchor="end">8</text>
<text transform="translate(204.3,1513.5) scale(1.3,1)" font-size="52.3" text-anchor="end">10</text>
<text transform="translate(349.4,2770) scale(1.3,1)" font-size="52.3" text-anchor="middle">0.1</text>
<text transform="translate(695.4,2770) scale(1.3,1)" font-size="52.3" text-anchor="middle">1</text>
<text transform="translate(1041.4,2770) scale(1.3,1)" font-size="52.3" text-anchor="middle">10</text>
<text transform="translate(1387.4,2770) scale(1.3,1)" font-size="52.3" text-anchor="middle">100</text>
<text transform="translate(1733.4,2770) scale(1.3,1)" font-size="52.3" text-anchor="middle">1000</text>
<text transform="translate(765,2850.7) scale(1.29,1)" font-size="53.3">Particle Sizes / <tspan font-family="Liberation Serif, serif">&#956;</tspan>m</text>
<text transform="translate(80.5,2289) rotate(-90) scale(1,1.378)" font-size="56.2">Volume / %</text>
</g>
<g transform="scale(1.53,1)">
<g fill="#fff" stroke="#000" stroke-width="2.1"><path d="M945.7,1613H962.2V1638H945.7Z"/></g>
<line x1="911.1" y1="1625.5" x2="996.7" y2="1625.5" stroke="#000" stroke-width="5.4"/>
</g>
<text transform="translate(1541,1644.5) scale(1.23,1)" font-size="46.6" font-family="Liberation Sans, sans-serif" stroke="#000" stroke-width="0.4">LZ-9</text>
<g transform="scale(1.53,1)">
<g fill="#fff" stroke="#000" stroke-width="2.1"><path d="M953.9,1679L965.2,1696.8L953.9,1714.6L942.7,1696.8Z"/></g>
<line x1="911.1" y1="1696.8" x2="996.7" y2="1696.8" stroke="#000" stroke-width="5.4"/>
</g>
<text transform="translate(1541,1715.8) scale(1.23,1)" font-size="46.6" font-family="Liberation Sans, sans-serif" stroke="#000" stroke-width="0.4">LZ-12</text>
<g transform="scale(1.53,1)">
<g fill="#fff" stroke="#00f" stroke-width="2.1"><path d="M941.5,1768.1L960.3,1750.8L960.3,1785.4Z"/></g>
<line x1="911.1" y1="1768.1" x2="996.7" y2="1768.1" stroke="#00f" stroke-width="5.4"/>
</g>
<text transform="translate(1541,1787.1) scale(1.23,1)" font-size="46.6" font-family="Liberation Sans, sans-serif" stroke="#000" stroke-width="0.4">LZ-18</text>
<g transform="scale(1.53,1)">
<g fill="#fff" stroke="#f00" stroke-width="2.1"><ellipse cx="953.9" cy="1839.4" rx="9.1" ry="14.3"/></g>
<line x1="911.1" y1="1839.4" x2="996.7" y2="1839.4" stroke="#f00" stroke-width="5.4"/>
</g>
<text transform="translate(1541,1858.4) scale(1.23,1)" font-size="46.6" font-family="Liberation Sans, sans-serif" stroke="#000" stroke-width="0.4">LZ-35</text>
</svg>
</body></html>
